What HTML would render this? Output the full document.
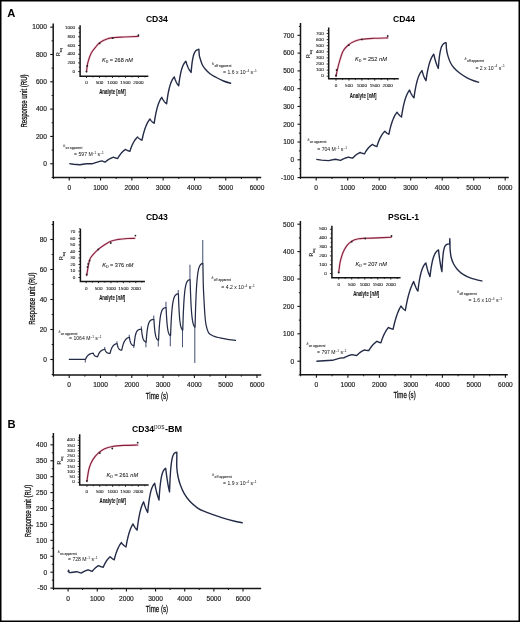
<!DOCTYPE html>
<html><head><meta charset="utf-8"><title>SPR binding kinetics figure</title>
<style>html,body{margin:0;padding:0;background:#fff;}body{width:520px;height:622px;overflow:hidden;font-family:"Liberation Sans", sans-serif;}svg{display:block;will-change:transform;}</style>
</head><body>
<svg width="520" height="622" viewBox="0 0 520 622" font-family='"Liberation Sans", sans-serif'><path d="M53.2,24.3 V177.4 H260.5" fill="none" stroke="#151515" stroke-width="1.5" stroke-linecap="square"/>
<line x1="50.2" y1="163.75" x2="53.2" y2="163.75" stroke="#151515" stroke-width="1.1"/>
<text x="46.9" y="166.05" font-size="6.6" text-anchor="end" font-weight="normal" font-style="normal" fill="#1e1e1e" stroke="#1e1e1e" stroke-width="0.18" >0</text>
<line x1="50.2" y1="136.43" x2="53.2" y2="136.43" stroke="#151515" stroke-width="1.1"/>
<text x="46.9" y="138.73" font-size="6.6" text-anchor="end" font-weight="normal" font-style="normal" fill="#1e1e1e" stroke="#1e1e1e" stroke-width="0.18" >200</text>
<line x1="50.2" y1="109.11" x2="53.2" y2="109.11" stroke="#151515" stroke-width="1.1"/>
<text x="46.9" y="111.41" font-size="6.6" text-anchor="end" font-weight="normal" font-style="normal" fill="#1e1e1e" stroke="#1e1e1e" stroke-width="0.18" >400</text>
<line x1="50.2" y1="81.79" x2="53.2" y2="81.79" stroke="#151515" stroke-width="1.1"/>
<text x="46.9" y="84.09" font-size="6.6" text-anchor="end" font-weight="normal" font-style="normal" fill="#1e1e1e" stroke="#1e1e1e" stroke-width="0.18" >600</text>
<line x1="50.2" y1="54.47" x2="53.2" y2="54.47" stroke="#151515" stroke-width="1.1"/>
<text x="46.9" y="56.77" font-size="6.6" text-anchor="end" font-weight="normal" font-style="normal" fill="#1e1e1e" stroke="#1e1e1e" stroke-width="0.18" >800</text>
<line x1="50.2" y1="27.15" x2="53.2" y2="27.15" stroke="#151515" stroke-width="1.1"/>
<text x="46.9" y="29.45" font-size="6.6" text-anchor="end" font-weight="normal" font-style="normal" fill="#1e1e1e" stroke="#1e1e1e" stroke-width="0.18" >1000</text>
<line x1="51.6" y1="177.41" x2="53.2" y2="177.41" stroke="#151515" stroke-width="1"/>
<line x1="51.6" y1="150.09" x2="53.2" y2="150.09" stroke="#151515" stroke-width="1"/>
<line x1="51.6" y1="122.77" x2="53.2" y2="122.77" stroke="#151515" stroke-width="1"/>
<line x1="51.6" y1="95.45" x2="53.2" y2="95.45" stroke="#151515" stroke-width="1"/>
<line x1="51.6" y1="68.13" x2="53.2" y2="68.13" stroke="#151515" stroke-width="1"/>
<line x1="51.6" y1="40.81" x2="53.2" y2="40.81" stroke="#151515" stroke-width="1"/>
<line x1="69.25" y1="177.4" x2="69.25" y2="180.4" stroke="#151515" stroke-width="1.1"/>
<text x="69.25" y="189.8" font-size="6.6" text-anchor="middle" font-weight="normal" font-style="normal" fill="#1e1e1e" stroke="#1e1e1e" stroke-width="0.18" >0</text>
<line x1="100.55" y1="177.4" x2="100.55" y2="180.4" stroke="#151515" stroke-width="1.1"/>
<text x="100.55" y="189.8" font-size="6.6" text-anchor="middle" font-weight="normal" font-style="normal" fill="#1e1e1e" stroke="#1e1e1e" stroke-width="0.18" >1000</text>
<line x1="131.85" y1="177.4" x2="131.85" y2="180.4" stroke="#151515" stroke-width="1.1"/>
<text x="131.85" y="189.8" font-size="6.6" text-anchor="middle" font-weight="normal" font-style="normal" fill="#1e1e1e" stroke="#1e1e1e" stroke-width="0.18" >2000</text>
<line x1="163.15" y1="177.4" x2="163.15" y2="180.4" stroke="#151515" stroke-width="1.1"/>
<text x="163.15" y="189.8" font-size="6.6" text-anchor="middle" font-weight="normal" font-style="normal" fill="#1e1e1e" stroke="#1e1e1e" stroke-width="0.18" >3000</text>
<line x1="194.45" y1="177.4" x2="194.45" y2="180.4" stroke="#151515" stroke-width="1.1"/>
<text x="194.45" y="189.8" font-size="6.6" text-anchor="middle" font-weight="normal" font-style="normal" fill="#1e1e1e" stroke="#1e1e1e" stroke-width="0.18" >4000</text>
<line x1="225.75" y1="177.4" x2="225.75" y2="180.4" stroke="#151515" stroke-width="1.1"/>
<text x="225.75" y="189.8" font-size="6.6" text-anchor="middle" font-weight="normal" font-style="normal" fill="#1e1e1e" stroke="#1e1e1e" stroke-width="0.18" >5000</text>
<line x1="257.05" y1="177.4" x2="257.05" y2="180.4" stroke="#151515" stroke-width="1.1"/>
<text x="257.05" y="189.8" font-size="6.6" text-anchor="middle" font-weight="normal" font-style="normal" fill="#1e1e1e" stroke="#1e1e1e" stroke-width="0.18" >6000</text>
<line x1="53.6" y1="177.4" x2="53.6" y2="179" stroke="#151515" stroke-width="1"/>
<line x1="84.9" y1="177.4" x2="84.9" y2="179" stroke="#151515" stroke-width="1"/>
<line x1="116.2" y1="177.4" x2="116.2" y2="179" stroke="#151515" stroke-width="1"/>
<line x1="147.5" y1="177.4" x2="147.5" y2="179" stroke="#151515" stroke-width="1"/>
<line x1="178.8" y1="177.4" x2="178.8" y2="179" stroke="#151515" stroke-width="1"/>
<line x1="210.1" y1="177.4" x2="210.1" y2="179" stroke="#151515" stroke-width="1"/>
<line x1="241.4" y1="177.4" x2="241.4" y2="179" stroke="#151515" stroke-width="1"/>
<text x="156.9" y="22" font-size="8.6" text-anchor="middle" font-weight="bold" font-style="normal" fill="#000" >CD34</text>
<text x="26.5" y="101" font-size="8.6" text-anchor="middle" font-weight="normal" font-style="normal" fill="#111" stroke="#111" stroke-width="0.28" textLength="53" lengthAdjust="spacingAndGlyphs" transform="rotate(-90 26.5 101)">Response unit (RU)</text>
<path d="M300.5,23.8 V177.4 H508" fill="none" stroke="#151515" stroke-width="1.5" stroke-linecap="square"/>
<line x1="297.5" y1="177.58" x2="300.5" y2="177.58" stroke="#151515" stroke-width="1.1"/>
<text x="294.2" y="179.88" font-size="6.6" text-anchor="end" font-weight="normal" font-style="normal" fill="#1e1e1e" stroke="#1e1e1e" stroke-width="0.18" >-100</text>
<line x1="297.5" y1="159.8" x2="300.5" y2="159.8" stroke="#151515" stroke-width="1.1"/>
<text x="294.2" y="162.1" font-size="6.6" text-anchor="end" font-weight="normal" font-style="normal" fill="#1e1e1e" stroke="#1e1e1e" stroke-width="0.18" >0</text>
<line x1="297.5" y1="142.02" x2="300.5" y2="142.02" stroke="#151515" stroke-width="1.1"/>
<text x="294.2" y="144.32" font-size="6.6" text-anchor="end" font-weight="normal" font-style="normal" fill="#1e1e1e" stroke="#1e1e1e" stroke-width="0.18" >100</text>
<line x1="297.5" y1="124.24" x2="300.5" y2="124.24" stroke="#151515" stroke-width="1.1"/>
<text x="294.2" y="126.54" font-size="6.6" text-anchor="end" font-weight="normal" font-style="normal" fill="#1e1e1e" stroke="#1e1e1e" stroke-width="0.18" >200</text>
<line x1="297.5" y1="106.46" x2="300.5" y2="106.46" stroke="#151515" stroke-width="1.1"/>
<text x="294.2" y="108.76" font-size="6.6" text-anchor="end" font-weight="normal" font-style="normal" fill="#1e1e1e" stroke="#1e1e1e" stroke-width="0.18" >300</text>
<line x1="297.5" y1="88.68" x2="300.5" y2="88.68" stroke="#151515" stroke-width="1.1"/>
<text x="294.2" y="90.98" font-size="6.6" text-anchor="end" font-weight="normal" font-style="normal" fill="#1e1e1e" stroke="#1e1e1e" stroke-width="0.18" >400</text>
<line x1="297.5" y1="70.9" x2="300.5" y2="70.9" stroke="#151515" stroke-width="1.1"/>
<text x="294.2" y="73.2" font-size="6.6" text-anchor="end" font-weight="normal" font-style="normal" fill="#1e1e1e" stroke="#1e1e1e" stroke-width="0.18" >500</text>
<line x1="297.5" y1="53.12" x2="300.5" y2="53.12" stroke="#151515" stroke-width="1.1"/>
<text x="294.2" y="55.42" font-size="6.6" text-anchor="end" font-weight="normal" font-style="normal" fill="#1e1e1e" stroke="#1e1e1e" stroke-width="0.18" >600</text>
<line x1="297.5" y1="35.34" x2="300.5" y2="35.34" stroke="#151515" stroke-width="1.1"/>
<text x="294.2" y="37.64" font-size="6.6" text-anchor="end" font-weight="normal" font-style="normal" fill="#1e1e1e" stroke="#1e1e1e" stroke-width="0.18" >700</text>
<line x1="298.9" y1="168.69" x2="300.5" y2="168.69" stroke="#151515" stroke-width="1"/>
<line x1="298.9" y1="150.91" x2="300.5" y2="150.91" stroke="#151515" stroke-width="1"/>
<line x1="298.9" y1="133.13" x2="300.5" y2="133.13" stroke="#151515" stroke-width="1"/>
<line x1="298.9" y1="115.35" x2="300.5" y2="115.35" stroke="#151515" stroke-width="1"/>
<line x1="298.9" y1="97.57" x2="300.5" y2="97.57" stroke="#151515" stroke-width="1"/>
<line x1="298.9" y1="79.79" x2="300.5" y2="79.79" stroke="#151515" stroke-width="1"/>
<line x1="298.9" y1="62.01" x2="300.5" y2="62.01" stroke="#151515" stroke-width="1"/>
<line x1="298.9" y1="44.23" x2="300.5" y2="44.23" stroke="#151515" stroke-width="1"/>
<line x1="298.9" y1="26.45" x2="300.5" y2="26.45" stroke="#151515" stroke-width="1"/>
<line x1="316.2" y1="177.4" x2="316.2" y2="180.4" stroke="#151515" stroke-width="1.1"/>
<text x="316.2" y="189.8" font-size="6.6" text-anchor="middle" font-weight="normal" font-style="normal" fill="#1e1e1e" stroke="#1e1e1e" stroke-width="0.18" >0</text>
<line x1="347.7" y1="177.4" x2="347.7" y2="180.4" stroke="#151515" stroke-width="1.1"/>
<text x="347.7" y="189.8" font-size="6.6" text-anchor="middle" font-weight="normal" font-style="normal" fill="#1e1e1e" stroke="#1e1e1e" stroke-width="0.18" >1000</text>
<line x1="379.2" y1="177.4" x2="379.2" y2="180.4" stroke="#151515" stroke-width="1.1"/>
<text x="379.2" y="189.8" font-size="6.6" text-anchor="middle" font-weight="normal" font-style="normal" fill="#1e1e1e" stroke="#1e1e1e" stroke-width="0.18" >2000</text>
<line x1="410.7" y1="177.4" x2="410.7" y2="180.4" stroke="#151515" stroke-width="1.1"/>
<text x="410.7" y="189.8" font-size="6.6" text-anchor="middle" font-weight="normal" font-style="normal" fill="#1e1e1e" stroke="#1e1e1e" stroke-width="0.18" >3000</text>
<line x1="442.2" y1="177.4" x2="442.2" y2="180.4" stroke="#151515" stroke-width="1.1"/>
<text x="442.2" y="189.8" font-size="6.6" text-anchor="middle" font-weight="normal" font-style="normal" fill="#1e1e1e" stroke="#1e1e1e" stroke-width="0.18" >4000</text>
<line x1="473.7" y1="177.4" x2="473.7" y2="180.4" stroke="#151515" stroke-width="1.1"/>
<text x="473.7" y="189.8" font-size="6.6" text-anchor="middle" font-weight="normal" font-style="normal" fill="#1e1e1e" stroke="#1e1e1e" stroke-width="0.18" >5000</text>
<line x1="505.2" y1="177.4" x2="505.2" y2="180.4" stroke="#151515" stroke-width="1.1"/>
<text x="505.2" y="189.8" font-size="6.6" text-anchor="middle" font-weight="normal" font-style="normal" fill="#1e1e1e" stroke="#1e1e1e" stroke-width="0.18" >6000</text>
<line x1="300.45" y1="177.4" x2="300.45" y2="179" stroke="#151515" stroke-width="1"/>
<line x1="331.95" y1="177.4" x2="331.95" y2="179" stroke="#151515" stroke-width="1"/>
<line x1="363.45" y1="177.4" x2="363.45" y2="179" stroke="#151515" stroke-width="1"/>
<line x1="394.95" y1="177.4" x2="394.95" y2="179" stroke="#151515" stroke-width="1"/>
<line x1="426.45" y1="177.4" x2="426.45" y2="179" stroke="#151515" stroke-width="1"/>
<line x1="457.95" y1="177.4" x2="457.95" y2="179" stroke="#151515" stroke-width="1"/>
<line x1="489.45" y1="177.4" x2="489.45" y2="179" stroke="#151515" stroke-width="1"/>
<text x="404.1" y="22" font-size="8.6" text-anchor="middle" font-weight="bold" font-style="normal" fill="#000" >CD44</text>
<path d="M53.3,221.8 V375 H260.5" fill="none" stroke="#151515" stroke-width="1.5" stroke-linecap="square"/>
<line x1="50.3" y1="359.5" x2="53.3" y2="359.5" stroke="#151515" stroke-width="1.1"/>
<text x="47" y="361.8" font-size="6.6" text-anchor="end" font-weight="normal" font-style="normal" fill="#1e1e1e" stroke="#1e1e1e" stroke-width="0.18" >0</text>
<line x1="50.3" y1="329.5" x2="53.3" y2="329.5" stroke="#151515" stroke-width="1.1"/>
<text x="47" y="331.8" font-size="6.6" text-anchor="end" font-weight="normal" font-style="normal" fill="#1e1e1e" stroke="#1e1e1e" stroke-width="0.18" >20</text>
<line x1="50.3" y1="299.5" x2="53.3" y2="299.5" stroke="#151515" stroke-width="1.1"/>
<text x="47" y="301.8" font-size="6.6" text-anchor="end" font-weight="normal" font-style="normal" fill="#1e1e1e" stroke="#1e1e1e" stroke-width="0.18" >40</text>
<line x1="50.3" y1="269.5" x2="53.3" y2="269.5" stroke="#151515" stroke-width="1.1"/>
<text x="47" y="271.8" font-size="6.6" text-anchor="end" font-weight="normal" font-style="normal" fill="#1e1e1e" stroke="#1e1e1e" stroke-width="0.18" >60</text>
<line x1="50.3" y1="239.5" x2="53.3" y2="239.5" stroke="#151515" stroke-width="1.1"/>
<text x="47" y="241.8" font-size="6.6" text-anchor="end" font-weight="normal" font-style="normal" fill="#1e1e1e" stroke="#1e1e1e" stroke-width="0.18" >80</text>
<line x1="51.7" y1="374.5" x2="53.3" y2="374.5" stroke="#151515" stroke-width="1"/>
<line x1="51.7" y1="344.5" x2="53.3" y2="344.5" stroke="#151515" stroke-width="1"/>
<line x1="51.7" y1="314.5" x2="53.3" y2="314.5" stroke="#151515" stroke-width="1"/>
<line x1="51.7" y1="284.5" x2="53.3" y2="284.5" stroke="#151515" stroke-width="1"/>
<line x1="51.7" y1="254.5" x2="53.3" y2="254.5" stroke="#151515" stroke-width="1"/>
<line x1="51.7" y1="224.5" x2="53.3" y2="224.5" stroke="#151515" stroke-width="1"/>
<line x1="69.2" y1="375" x2="69.2" y2="378" stroke="#151515" stroke-width="1.1"/>
<text x="69.2" y="387.4" font-size="6.6" text-anchor="middle" font-weight="normal" font-style="normal" fill="#1e1e1e" stroke="#1e1e1e" stroke-width="0.18" >0</text>
<line x1="100.5" y1="375" x2="100.5" y2="378" stroke="#151515" stroke-width="1.1"/>
<text x="100.5" y="387.4" font-size="6.6" text-anchor="middle" font-weight="normal" font-style="normal" fill="#1e1e1e" stroke="#1e1e1e" stroke-width="0.18" >1000</text>
<line x1="131.8" y1="375" x2="131.8" y2="378" stroke="#151515" stroke-width="1.1"/>
<text x="131.8" y="387.4" font-size="6.6" text-anchor="middle" font-weight="normal" font-style="normal" fill="#1e1e1e" stroke="#1e1e1e" stroke-width="0.18" >2000</text>
<line x1="163.1" y1="375" x2="163.1" y2="378" stroke="#151515" stroke-width="1.1"/>
<text x="163.1" y="387.4" font-size="6.6" text-anchor="middle" font-weight="normal" font-style="normal" fill="#1e1e1e" stroke="#1e1e1e" stroke-width="0.18" >3000</text>
<line x1="194.4" y1="375" x2="194.4" y2="378" stroke="#151515" stroke-width="1.1"/>
<text x="194.4" y="387.4" font-size="6.6" text-anchor="middle" font-weight="normal" font-style="normal" fill="#1e1e1e" stroke="#1e1e1e" stroke-width="0.18" >4000</text>
<line x1="225.7" y1="375" x2="225.7" y2="378" stroke="#151515" stroke-width="1.1"/>
<text x="225.7" y="387.4" font-size="6.6" text-anchor="middle" font-weight="normal" font-style="normal" fill="#1e1e1e" stroke="#1e1e1e" stroke-width="0.18" >5000</text>
<line x1="257" y1="375" x2="257" y2="378" stroke="#151515" stroke-width="1.1"/>
<text x="257" y="387.4" font-size="6.6" text-anchor="middle" font-weight="normal" font-style="normal" fill="#1e1e1e" stroke="#1e1e1e" stroke-width="0.18" >6000</text>
<line x1="53.55" y1="375" x2="53.55" y2="376.6" stroke="#151515" stroke-width="1"/>
<line x1="84.85" y1="375" x2="84.85" y2="376.6" stroke="#151515" stroke-width="1"/>
<line x1="116.15" y1="375" x2="116.15" y2="376.6" stroke="#151515" stroke-width="1"/>
<line x1="147.45" y1="375" x2="147.45" y2="376.6" stroke="#151515" stroke-width="1"/>
<line x1="178.75" y1="375" x2="178.75" y2="376.6" stroke="#151515" stroke-width="1"/>
<line x1="210.05" y1="375" x2="210.05" y2="376.6" stroke="#151515" stroke-width="1"/>
<line x1="241.35" y1="375" x2="241.35" y2="376.6" stroke="#151515" stroke-width="1"/>
<text x="156.9" y="219.5" font-size="8.6" text-anchor="middle" font-weight="bold" font-style="normal" fill="#000" >CD43</text>
<text x="34.7" y="298.6" font-size="8.6" text-anchor="middle" font-weight="normal" font-style="normal" fill="#111" stroke="#111" stroke-width="0.28" textLength="52.3" lengthAdjust="spacingAndGlyphs" transform="rotate(-90 34.7 298.6)">Response unit (RU)</text>
<text x="156.9" y="398.6" font-size="8.6" text-anchor="middle" font-weight="normal" font-style="normal" fill="#111" stroke="#111" stroke-width="0.28" textLength="22.3" lengthAdjust="spacingAndGlyphs">Time (s)</text>
<path d="M300.4,221.7 V374.7 H507" fill="none" stroke="#151515" stroke-width="1.5" stroke-linecap="square"/>
<line x1="297.4" y1="361.2" x2="300.4" y2="361.2" stroke="#151515" stroke-width="1.1"/>
<text x="294.1" y="363.5" font-size="6.6" text-anchor="end" font-weight="normal" font-style="normal" fill="#1e1e1e" stroke="#1e1e1e" stroke-width="0.18" >0</text>
<line x1="297.4" y1="333.8" x2="300.4" y2="333.8" stroke="#151515" stroke-width="1.1"/>
<text x="294.1" y="336.1" font-size="6.6" text-anchor="end" font-weight="normal" font-style="normal" fill="#1e1e1e" stroke="#1e1e1e" stroke-width="0.18" >100</text>
<line x1="297.4" y1="306.4" x2="300.4" y2="306.4" stroke="#151515" stroke-width="1.1"/>
<text x="294.1" y="308.7" font-size="6.6" text-anchor="end" font-weight="normal" font-style="normal" fill="#1e1e1e" stroke="#1e1e1e" stroke-width="0.18" >200</text>
<line x1="297.4" y1="279" x2="300.4" y2="279" stroke="#151515" stroke-width="1.1"/>
<text x="294.1" y="281.3" font-size="6.6" text-anchor="end" font-weight="normal" font-style="normal" fill="#1e1e1e" stroke="#1e1e1e" stroke-width="0.18" >300</text>
<line x1="297.4" y1="251.6" x2="300.4" y2="251.6" stroke="#151515" stroke-width="1.1"/>
<text x="294.1" y="253.9" font-size="6.6" text-anchor="end" font-weight="normal" font-style="normal" fill="#1e1e1e" stroke="#1e1e1e" stroke-width="0.18" >400</text>
<line x1="297.4" y1="224.2" x2="300.4" y2="224.2" stroke="#151515" stroke-width="1.1"/>
<text x="294.1" y="226.5" font-size="6.6" text-anchor="end" font-weight="normal" font-style="normal" fill="#1e1e1e" stroke="#1e1e1e" stroke-width="0.18" >500</text>
<line x1="298.8" y1="374.9" x2="300.4" y2="374.9" stroke="#151515" stroke-width="1"/>
<line x1="298.8" y1="347.5" x2="300.4" y2="347.5" stroke="#151515" stroke-width="1"/>
<line x1="298.8" y1="320.1" x2="300.4" y2="320.1" stroke="#151515" stroke-width="1"/>
<line x1="298.8" y1="292.7" x2="300.4" y2="292.7" stroke="#151515" stroke-width="1"/>
<line x1="298.8" y1="265.3" x2="300.4" y2="265.3" stroke="#151515" stroke-width="1"/>
<line x1="298.8" y1="237.9" x2="300.4" y2="237.9" stroke="#151515" stroke-width="1"/>
<line x1="316.4" y1="374.7" x2="316.4" y2="377.7" stroke="#151515" stroke-width="1.1"/>
<text x="316.4" y="387.1" font-size="6.6" text-anchor="middle" font-weight="normal" font-style="normal" fill="#1e1e1e" stroke="#1e1e1e" stroke-width="0.18" >0</text>
<line x1="347.9" y1="374.7" x2="347.9" y2="377.7" stroke="#151515" stroke-width="1.1"/>
<text x="347.9" y="387.1" font-size="6.6" text-anchor="middle" font-weight="normal" font-style="normal" fill="#1e1e1e" stroke="#1e1e1e" stroke-width="0.18" >1000</text>
<line x1="379.4" y1="374.7" x2="379.4" y2="377.7" stroke="#151515" stroke-width="1.1"/>
<text x="379.4" y="387.1" font-size="6.6" text-anchor="middle" font-weight="normal" font-style="normal" fill="#1e1e1e" stroke="#1e1e1e" stroke-width="0.18" >2000</text>
<line x1="410.9" y1="374.7" x2="410.9" y2="377.7" stroke="#151515" stroke-width="1.1"/>
<text x="410.9" y="387.1" font-size="6.6" text-anchor="middle" font-weight="normal" font-style="normal" fill="#1e1e1e" stroke="#1e1e1e" stroke-width="0.18" >3000</text>
<line x1="442.4" y1="374.7" x2="442.4" y2="377.7" stroke="#151515" stroke-width="1.1"/>
<text x="442.4" y="387.1" font-size="6.6" text-anchor="middle" font-weight="normal" font-style="normal" fill="#1e1e1e" stroke="#1e1e1e" stroke-width="0.18" >4000</text>
<line x1="473.9" y1="374.7" x2="473.9" y2="377.7" stroke="#151515" stroke-width="1.1"/>
<text x="473.9" y="387.1" font-size="6.6" text-anchor="middle" font-weight="normal" font-style="normal" fill="#1e1e1e" stroke="#1e1e1e" stroke-width="0.18" >5000</text>
<line x1="505.4" y1="374.7" x2="505.4" y2="377.7" stroke="#151515" stroke-width="1.1"/>
<text x="505.4" y="387.1" font-size="6.6" text-anchor="middle" font-weight="normal" font-style="normal" fill="#1e1e1e" stroke="#1e1e1e" stroke-width="0.18" >6000</text>
<line x1="300.65" y1="374.7" x2="300.65" y2="376.3" stroke="#151515" stroke-width="1"/>
<line x1="332.15" y1="374.7" x2="332.15" y2="376.3" stroke="#151515" stroke-width="1"/>
<line x1="363.65" y1="374.7" x2="363.65" y2="376.3" stroke="#151515" stroke-width="1"/>
<line x1="395.15" y1="374.7" x2="395.15" y2="376.3" stroke="#151515" stroke-width="1"/>
<line x1="426.65" y1="374.7" x2="426.65" y2="376.3" stroke="#151515" stroke-width="1"/>
<line x1="458.15" y1="374.7" x2="458.15" y2="376.3" stroke="#151515" stroke-width="1"/>
<line x1="489.65" y1="374.7" x2="489.65" y2="376.3" stroke="#151515" stroke-width="1"/>
<text x="403.6" y="219.5" font-size="8.6" text-anchor="middle" font-weight="bold" font-style="normal" fill="#000" >PSGL-1</text>
<text x="404.6" y="397.6" font-size="8.6" text-anchor="middle" font-weight="normal" font-style="normal" fill="#111" stroke="#111" stroke-width="0.28" textLength="22.3" lengthAdjust="spacingAndGlyphs">Time (s)</text>
<path d="M53.4,433.7 V588.4 H260.4" fill="none" stroke="#151515" stroke-width="1.5" stroke-linecap="square"/>
<line x1="50.4" y1="588.12" x2="53.4" y2="588.12" stroke="#151515" stroke-width="1.1"/>
<text x="47.1" y="590.42" font-size="6.6" text-anchor="end" font-weight="normal" font-style="normal" fill="#1e1e1e" stroke="#1e1e1e" stroke-width="0.18" >-50</text>
<line x1="50.4" y1="572.2" x2="53.4" y2="572.2" stroke="#151515" stroke-width="1.1"/>
<text x="47.1" y="574.5" font-size="6.6" text-anchor="end" font-weight="normal" font-style="normal" fill="#1e1e1e" stroke="#1e1e1e" stroke-width="0.18" >0</text>
<line x1="50.4" y1="556.28" x2="53.4" y2="556.28" stroke="#151515" stroke-width="1.1"/>
<text x="47.1" y="558.58" font-size="6.6" text-anchor="end" font-weight="normal" font-style="normal" fill="#1e1e1e" stroke="#1e1e1e" stroke-width="0.18" >50</text>
<line x1="50.4" y1="540.36" x2="53.4" y2="540.36" stroke="#151515" stroke-width="1.1"/>
<text x="47.1" y="542.66" font-size="6.6" text-anchor="end" font-weight="normal" font-style="normal" fill="#1e1e1e" stroke="#1e1e1e" stroke-width="0.18" >100</text>
<line x1="50.4" y1="524.44" x2="53.4" y2="524.44" stroke="#151515" stroke-width="1.1"/>
<text x="47.1" y="526.74" font-size="6.6" text-anchor="end" font-weight="normal" font-style="normal" fill="#1e1e1e" stroke="#1e1e1e" stroke-width="0.18" >150</text>
<line x1="50.4" y1="508.52" x2="53.4" y2="508.52" stroke="#151515" stroke-width="1.1"/>
<text x="47.1" y="510.82" font-size="6.6" text-anchor="end" font-weight="normal" font-style="normal" fill="#1e1e1e" stroke="#1e1e1e" stroke-width="0.18" >200</text>
<line x1="50.4" y1="492.6" x2="53.4" y2="492.6" stroke="#151515" stroke-width="1.1"/>
<text x="47.1" y="494.9" font-size="6.6" text-anchor="end" font-weight="normal" font-style="normal" fill="#1e1e1e" stroke="#1e1e1e" stroke-width="0.18" >250</text>
<line x1="50.4" y1="476.68" x2="53.4" y2="476.68" stroke="#151515" stroke-width="1.1"/>
<text x="47.1" y="478.98" font-size="6.6" text-anchor="end" font-weight="normal" font-style="normal" fill="#1e1e1e" stroke="#1e1e1e" stroke-width="0.18" >300</text>
<line x1="50.4" y1="460.76" x2="53.4" y2="460.76" stroke="#151515" stroke-width="1.1"/>
<text x="47.1" y="463.06" font-size="6.6" text-anchor="end" font-weight="normal" font-style="normal" fill="#1e1e1e" stroke="#1e1e1e" stroke-width="0.18" >350</text>
<line x1="50.4" y1="444.84" x2="53.4" y2="444.84" stroke="#151515" stroke-width="1.1"/>
<text x="47.1" y="447.14" font-size="6.6" text-anchor="end" font-weight="normal" font-style="normal" fill="#1e1e1e" stroke="#1e1e1e" stroke-width="0.18" >400</text>
<line x1="51.8" y1="580.16" x2="53.4" y2="580.16" stroke="#151515" stroke-width="1"/>
<line x1="51.8" y1="564.24" x2="53.4" y2="564.24" stroke="#151515" stroke-width="1"/>
<line x1="51.8" y1="548.32" x2="53.4" y2="548.32" stroke="#151515" stroke-width="1"/>
<line x1="51.8" y1="532.4" x2="53.4" y2="532.4" stroke="#151515" stroke-width="1"/>
<line x1="51.8" y1="516.48" x2="53.4" y2="516.48" stroke="#151515" stroke-width="1"/>
<line x1="51.8" y1="500.56" x2="53.4" y2="500.56" stroke="#151515" stroke-width="1"/>
<line x1="51.8" y1="484.64" x2="53.4" y2="484.64" stroke="#151515" stroke-width="1"/>
<line x1="51.8" y1="468.72" x2="53.4" y2="468.72" stroke="#151515" stroke-width="1"/>
<line x1="51.8" y1="452.8" x2="53.4" y2="452.8" stroke="#151515" stroke-width="1"/>
<line x1="51.8" y1="436.88" x2="53.4" y2="436.88" stroke="#151515" stroke-width="1"/>
<line x1="68.1" y1="588.4" x2="68.1" y2="591.4" stroke="#151515" stroke-width="1.1"/>
<text x="68.1" y="600.8" font-size="6.6" text-anchor="middle" font-weight="normal" font-style="normal" fill="#1e1e1e" stroke="#1e1e1e" stroke-width="0.18" >0</text>
<line x1="97.25" y1="588.4" x2="97.25" y2="591.4" stroke="#151515" stroke-width="1.1"/>
<text x="97.25" y="600.8" font-size="6.6" text-anchor="middle" font-weight="normal" font-style="normal" fill="#1e1e1e" stroke="#1e1e1e" stroke-width="0.18" >1000</text>
<line x1="126.4" y1="588.4" x2="126.4" y2="591.4" stroke="#151515" stroke-width="1.1"/>
<text x="126.4" y="600.8" font-size="6.6" text-anchor="middle" font-weight="normal" font-style="normal" fill="#1e1e1e" stroke="#1e1e1e" stroke-width="0.18" >2000</text>
<line x1="155.55" y1="588.4" x2="155.55" y2="591.4" stroke="#151515" stroke-width="1.1"/>
<text x="155.55" y="600.8" font-size="6.6" text-anchor="middle" font-weight="normal" font-style="normal" fill="#1e1e1e" stroke="#1e1e1e" stroke-width="0.18" >3000</text>
<line x1="184.7" y1="588.4" x2="184.7" y2="591.4" stroke="#151515" stroke-width="1.1"/>
<text x="184.7" y="600.8" font-size="6.6" text-anchor="middle" font-weight="normal" font-style="normal" fill="#1e1e1e" stroke="#1e1e1e" stroke-width="0.18" >4000</text>
<line x1="213.85" y1="588.4" x2="213.85" y2="591.4" stroke="#151515" stroke-width="1.1"/>
<text x="213.85" y="600.8" font-size="6.6" text-anchor="middle" font-weight="normal" font-style="normal" fill="#1e1e1e" stroke="#1e1e1e" stroke-width="0.18" >5000</text>
<line x1="243" y1="588.4" x2="243" y2="591.4" stroke="#151515" stroke-width="1.1"/>
<text x="243" y="600.8" font-size="6.6" text-anchor="middle" font-weight="normal" font-style="normal" fill="#1e1e1e" stroke="#1e1e1e" stroke-width="0.18" >6000</text>
<line x1="53.52" y1="588.4" x2="53.52" y2="590" stroke="#151515" stroke-width="1"/>
<line x1="82.67" y1="588.4" x2="82.67" y2="590" stroke="#151515" stroke-width="1"/>
<line x1="111.82" y1="588.4" x2="111.82" y2="590" stroke="#151515" stroke-width="1"/>
<line x1="140.97" y1="588.4" x2="140.97" y2="590" stroke="#151515" stroke-width="1"/>
<line x1="170.12" y1="588.4" x2="170.12" y2="590" stroke="#151515" stroke-width="1"/>
<line x1="199.27" y1="588.4" x2="199.27" y2="590" stroke="#151515" stroke-width="1"/>
<line x1="228.42" y1="588.4" x2="228.42" y2="590" stroke="#151515" stroke-width="1"/>
<text x="132" y="431.6" font-size="8.6" font-weight="bold" fill="#000">CD34</text>
<text x="153.9" y="428.6" font-size="6.3" fill="#333" textLength="10.6" lengthAdjust="spacingAndGlyphs">pos</text>
<text x="165" y="431.6" font-size="8.6" font-weight="bold" fill="#000" textLength="17.2" lengthAdjust="spacingAndGlyphs">-BM</text>
<text x="30.5" y="511" font-size="8.6" text-anchor="middle" font-weight="normal" font-style="normal" fill="#111" stroke="#111" stroke-width="0.28" textLength="52.3" lengthAdjust="spacingAndGlyphs" transform="rotate(-90 30.5 511)">Response unit (RU)</text>
<text x="156.9" y="612.2" font-size="8.6" text-anchor="middle" font-weight="normal" font-style="normal" fill="#111" stroke="#111" stroke-width="0.28" textLength="22.3" lengthAdjust="spacingAndGlyphs">Time (s)</text>
<text x="11.3" y="17.3" font-size="11.2" text-anchor="middle" font-weight="bold" font-style="normal" fill="#000" >A</text>
<text x="11.5" y="427.5" font-size="11.2" text-anchor="middle" font-weight="bold" font-style="normal" fill="#000" >B</text>
<path d="M80.1,26 V76.2 H147.6" fill="none" stroke="#151515" stroke-width="1.5" stroke-linecap="square"/>
<line x1="78.1" y1="71.6" x2="80.1" y2="71.6" stroke="#151515" stroke-width="0.9"/>
<text transform="translate(75.1,72.7) scale(1,0.68)" font-size="4.6" text-anchor="end" fill="#1a1a1a" stroke="#1a1a1a" stroke-width="0.1">0</text>
<line x1="78.1" y1="62.9" x2="80.1" y2="62.9" stroke="#151515" stroke-width="0.9"/>
<text transform="translate(75.1,64) scale(1,0.68)" font-size="4.6" text-anchor="end" fill="#1a1a1a" stroke="#1a1a1a" stroke-width="0.1">200</text>
<line x1="78.1" y1="54.2" x2="80.1" y2="54.2" stroke="#151515" stroke-width="0.9"/>
<text transform="translate(75.1,55.3) scale(1,0.68)" font-size="4.6" text-anchor="end" fill="#1a1a1a" stroke="#1a1a1a" stroke-width="0.1">400</text>
<line x1="78.1" y1="45.5" x2="80.1" y2="45.5" stroke="#151515" stroke-width="0.9"/>
<text transform="translate(75.1,46.6) scale(1,0.68)" font-size="4.6" text-anchor="end" fill="#1a1a1a" stroke="#1a1a1a" stroke-width="0.1">600</text>
<line x1="78.1" y1="36.8" x2="80.1" y2="36.8" stroke="#151515" stroke-width="0.9"/>
<text transform="translate(75.1,37.9) scale(1,0.68)" font-size="4.6" text-anchor="end" fill="#1a1a1a" stroke="#1a1a1a" stroke-width="0.1">800</text>
<line x1="78.1" y1="28.1" x2="80.1" y2="28.1" stroke="#151515" stroke-width="0.9"/>
<text transform="translate(75.1,29.2) scale(1,0.68)" font-size="4.6" text-anchor="end" fill="#1a1a1a" stroke="#1a1a1a" stroke-width="0.1">1000</text>
<line x1="78.8" y1="67.25" x2="80.1" y2="67.25" stroke="#151515" stroke-width="0.8"/>
<line x1="78.8" y1="58.55" x2="80.1" y2="58.55" stroke="#151515" stroke-width="0.8"/>
<line x1="78.8" y1="49.85" x2="80.1" y2="49.85" stroke="#151515" stroke-width="0.8"/>
<line x1="78.8" y1="41.15" x2="80.1" y2="41.15" stroke="#151515" stroke-width="0.8"/>
<line x1="78.8" y1="32.45" x2="80.1" y2="32.45" stroke="#151515" stroke-width="0.8"/>
<line x1="86.5" y1="76.2" x2="86.5" y2="78" stroke="#151515" stroke-width="0.9"/>
<text transform="translate(86.5,84.3) scale(1,0.68)" font-size="4.6" text-anchor="middle" fill="#1a1a1a" stroke="#1a1a1a" stroke-width="0.1">0</text>
<line x1="99.47" y1="76.2" x2="99.47" y2="78" stroke="#151515" stroke-width="0.9"/>
<text transform="translate(99.47,84.3) scale(1,0.68)" font-size="4.6" text-anchor="middle" fill="#1a1a1a" stroke="#1a1a1a" stroke-width="0.1">500</text>
<line x1="112.45" y1="76.2" x2="112.45" y2="78" stroke="#151515" stroke-width="0.9"/>
<text transform="translate(112.45,84.3) scale(1,0.68)" font-size="4.6" text-anchor="middle" fill="#1a1a1a" stroke="#1a1a1a" stroke-width="0.1">1000</text>
<line x1="125.43" y1="76.2" x2="125.43" y2="78" stroke="#151515" stroke-width="0.9"/>
<text transform="translate(125.43,84.3) scale(1,0.68)" font-size="4.6" text-anchor="middle" fill="#1a1a1a" stroke="#1a1a1a" stroke-width="0.1">1500</text>
<line x1="138.4" y1="76.2" x2="138.4" y2="78" stroke="#151515" stroke-width="0.9"/>
<text transform="translate(138.4,84.3) scale(1,0.68)" font-size="4.6" text-anchor="middle" fill="#1a1a1a" stroke="#1a1a1a" stroke-width="0.1">2000</text>
<line x1="92.99" y1="76.2" x2="92.99" y2="77.5" stroke="#151515" stroke-width="0.8"/>
<line x1="105.96" y1="76.2" x2="105.96" y2="77.5" stroke="#151515" stroke-width="0.8"/>
<line x1="118.94" y1="76.2" x2="118.94" y2="77.5" stroke="#151515" stroke-width="0.8"/>
<line x1="131.91" y1="76.2" x2="131.91" y2="77.5" stroke="#151515" stroke-width="0.8"/>
<line x1="144.89" y1="76.2" x2="144.89" y2="77.5" stroke="#151515" stroke-width="0.8"/>
<text transform="translate(60.1,55.9) rotate(-90)" font-size="5.2" fill="#1a1a1a" stroke="#1a1a1a" stroke-width="0.1">R<tspan font-size="3.8" dy="1.9">eq</tspan></text>
<text x="112.4" y="94.4" font-size="6.5" font-weight="bold" text-anchor="middle" fill="#1a1a1a" stroke="#1a1a1a" stroke-width="0.12" textLength="26.4" lengthAdjust="spacingAndGlyphs">Analyte [<tspan font-style="italic">nM</tspan>]</text>
<text x="102" y="62.1" font-size="5.6" fill="#1a1a1a" stroke="#1a1a1a" stroke-width="0.08" textLength="30.9" lengthAdjust="spacingAndGlyphs"><tspan font-style="italic">K</tspan><tspan font-size="3.6" dy="1.3">D</tspan><tspan dy="-1.3"> = 268 </tspan><tspan font-style="italic">nM</tspan></text>
<path d="M86.5,71.6 C86.73,70.07 87.1,65.52 87.9,62.4 C88.7,59.28 89.87,55.63 91.3,52.9 C92.73,50.17 95.05,47.73 96.5,46 C97.95,44.27 98.27,43.67 100,42.5 C101.73,41.33 104.6,39.82 106.9,39 C109.2,38.18 110.92,37.93 113.8,37.6 C116.68,37.27 120.1,37.2 124.2,37 C128.3,36.8 136.03,36.5 138.4,36.4" fill="none" stroke="#e796ac" stroke-opacity="0.4" stroke-width="2.4" stroke-linecap="round" stroke-linejoin="round"/>
<path d="M86.5,71.6 C86.73,70.07 87.1,65.52 87.9,62.4 C88.7,59.28 89.87,55.63 91.3,52.9 C92.73,50.17 95.05,47.73 96.5,46 C97.95,44.27 98.27,43.67 100,42.5 C101.73,41.33 104.6,39.82 106.9,39 C109.2,38.18 110.92,37.93 113.8,37.6 C116.68,37.27 120.1,37.2 124.2,37 C128.3,36.8 136.03,36.5 138.4,36.4" fill="none" stroke="#86203d" stroke-width="1.15" stroke-linecap="round" stroke-linejoin="round"/>
<circle cx="86.5" cy="71.6" r="0.9" fill="#222"/>
<circle cx="87.2" cy="66" r="0.9" fill="#222"/>
<circle cx="99.6" cy="43.4" r="0.9" fill="#222"/>
<circle cx="112.6" cy="38.2" r="0.9" fill="#222"/>
<circle cx="138.4" cy="35.2" r="0.9" fill="#222"/>
<path d="M328.7,28.3 V78.8 H398" fill="none" stroke="#151515" stroke-width="1.5" stroke-linecap="square"/>
<line x1="326.7" y1="76.2" x2="328.7" y2="76.2" stroke="#151515" stroke-width="0.9"/>
<text transform="translate(323.7,77.3) scale(1,0.68)" font-size="4.6" text-anchor="end" fill="#1a1a1a" stroke="#1a1a1a" stroke-width="0.1">0</text>
<line x1="326.7" y1="70.1" x2="328.7" y2="70.1" stroke="#151515" stroke-width="0.9"/>
<text transform="translate(323.7,71.2) scale(1,0.68)" font-size="4.6" text-anchor="end" fill="#1a1a1a" stroke="#1a1a1a" stroke-width="0.1">100</text>
<line x1="326.7" y1="64" x2="328.7" y2="64" stroke="#151515" stroke-width="0.9"/>
<text transform="translate(323.7,65.1) scale(1,0.68)" font-size="4.6" text-anchor="end" fill="#1a1a1a" stroke="#1a1a1a" stroke-width="0.1">200</text>
<line x1="326.7" y1="57.9" x2="328.7" y2="57.9" stroke="#151515" stroke-width="0.9"/>
<text transform="translate(323.7,59) scale(1,0.68)" font-size="4.6" text-anchor="end" fill="#1a1a1a" stroke="#1a1a1a" stroke-width="0.1">300</text>
<line x1="326.7" y1="51.8" x2="328.7" y2="51.8" stroke="#151515" stroke-width="0.9"/>
<text transform="translate(323.7,52.9) scale(1,0.68)" font-size="4.6" text-anchor="end" fill="#1a1a1a" stroke="#1a1a1a" stroke-width="0.1">400</text>
<line x1="326.7" y1="45.7" x2="328.7" y2="45.7" stroke="#151515" stroke-width="0.9"/>
<text transform="translate(323.7,46.8) scale(1,0.68)" font-size="4.6" text-anchor="end" fill="#1a1a1a" stroke="#1a1a1a" stroke-width="0.1">500</text>
<line x1="326.7" y1="39.6" x2="328.7" y2="39.6" stroke="#151515" stroke-width="0.9"/>
<text transform="translate(323.7,40.7) scale(1,0.68)" font-size="4.6" text-anchor="end" fill="#1a1a1a" stroke="#1a1a1a" stroke-width="0.1">600</text>
<line x1="326.7" y1="33.5" x2="328.7" y2="33.5" stroke="#151515" stroke-width="0.9"/>
<text transform="translate(323.7,34.6) scale(1,0.68)" font-size="4.6" text-anchor="end" fill="#1a1a1a" stroke="#1a1a1a" stroke-width="0.1">700</text>
<line x1="327.4" y1="73.15" x2="328.7" y2="73.15" stroke="#151515" stroke-width="0.8"/>
<line x1="327.4" y1="67.05" x2="328.7" y2="67.05" stroke="#151515" stroke-width="0.8"/>
<line x1="327.4" y1="60.95" x2="328.7" y2="60.95" stroke="#151515" stroke-width="0.8"/>
<line x1="327.4" y1="54.85" x2="328.7" y2="54.85" stroke="#151515" stroke-width="0.8"/>
<line x1="327.4" y1="48.75" x2="328.7" y2="48.75" stroke="#151515" stroke-width="0.8"/>
<line x1="327.4" y1="42.65" x2="328.7" y2="42.65" stroke="#151515" stroke-width="0.8"/>
<line x1="327.4" y1="36.55" x2="328.7" y2="36.55" stroke="#151515" stroke-width="0.8"/>
<line x1="327.4" y1="30.45" x2="328.7" y2="30.45" stroke="#151515" stroke-width="0.8"/>
<line x1="336" y1="78.8" x2="336" y2="80.6" stroke="#151515" stroke-width="0.9"/>
<text transform="translate(336,86.9) scale(1,0.68)" font-size="4.6" text-anchor="middle" fill="#1a1a1a" stroke="#1a1a1a" stroke-width="0.1">0</text>
<line x1="348.93" y1="78.8" x2="348.93" y2="80.6" stroke="#151515" stroke-width="0.9"/>
<text transform="translate(348.93,86.9) scale(1,0.68)" font-size="4.6" text-anchor="middle" fill="#1a1a1a" stroke="#1a1a1a" stroke-width="0.1">500</text>
<line x1="361.85" y1="78.8" x2="361.85" y2="80.6" stroke="#151515" stroke-width="0.9"/>
<text transform="translate(361.85,86.9) scale(1,0.68)" font-size="4.6" text-anchor="middle" fill="#1a1a1a" stroke="#1a1a1a" stroke-width="0.1">1000</text>
<line x1="374.77" y1="78.8" x2="374.77" y2="80.6" stroke="#151515" stroke-width="0.9"/>
<text transform="translate(374.77,86.9) scale(1,0.68)" font-size="4.6" text-anchor="middle" fill="#1a1a1a" stroke="#1a1a1a" stroke-width="0.1">1500</text>
<line x1="387.7" y1="78.8" x2="387.7" y2="80.6" stroke="#151515" stroke-width="0.9"/>
<text transform="translate(387.7,86.9) scale(1,0.68)" font-size="4.6" text-anchor="middle" fill="#1a1a1a" stroke="#1a1a1a" stroke-width="0.1">2000</text>
<line x1="342.46" y1="78.8" x2="342.46" y2="80.1" stroke="#151515" stroke-width="0.8"/>
<line x1="355.39" y1="78.8" x2="355.39" y2="80.1" stroke="#151515" stroke-width="0.8"/>
<line x1="368.31" y1="78.8" x2="368.31" y2="80.1" stroke="#151515" stroke-width="0.8"/>
<line x1="381.24" y1="78.8" x2="381.24" y2="80.1" stroke="#151515" stroke-width="0.8"/>
<line x1="394.16" y1="78.8" x2="394.16" y2="80.1" stroke="#151515" stroke-width="0.8"/>
<text transform="translate(309.8,57.9) rotate(-90)" font-size="5.2" fill="#1a1a1a" stroke="#1a1a1a" stroke-width="0.1">R<tspan font-size="3.8" dy="1.9">eq</tspan></text>
<text x="363.2" y="97.6" font-size="6.5" font-weight="bold" text-anchor="middle" fill="#1a1a1a" stroke="#1a1a1a" stroke-width="0.12" textLength="26.7" lengthAdjust="spacingAndGlyphs">Analyte [<tspan font-style="italic">nM</tspan>]</text>
<text x="355" y="60.9" font-size="5.6" fill="#1a1a1a" stroke="#1a1a1a" stroke-width="0.08" textLength="31.9" lengthAdjust="spacingAndGlyphs"><tspan font-style="italic">K</tspan><tspan font-size="3.6" dy="1.3">D</tspan><tspan dy="-1.3"> = 252 </tspan><tspan font-style="italic">nM</tspan></text>
<path d="M336,76.3 C336.38,74.55 337.13,69.97 338.3,65.8 C339.47,61.63 341.25,54.83 343,51.3 C344.75,47.77 346.87,46.28 348.8,44.6 C350.73,42.92 352.42,42.1 354.6,41.2 C356.78,40.3 358.7,39.68 361.9,39.2 C365.1,38.72 369.5,38.52 373.8,38.3 C378.1,38.08 385.38,37.97 387.7,37.9" fill="none" stroke="#e796ac" stroke-opacity="0.4" stroke-width="2.4" stroke-linecap="round" stroke-linejoin="round"/>
<path d="M336,76.3 C336.38,74.55 337.13,69.97 338.3,65.8 C339.47,61.63 341.25,54.83 343,51.3 C344.75,47.77 346.87,46.28 348.8,44.6 C350.73,42.92 352.42,42.1 354.6,41.2 C356.78,40.3 358.7,39.68 361.9,39.2 C365.1,38.72 369.5,38.52 373.8,38.3 C378.1,38.08 385.38,37.97 387.7,37.9" fill="none" stroke="#86203d" stroke-width="1.15" stroke-linecap="round" stroke-linejoin="round"/>
<circle cx="336" cy="75.5" r="0.9" fill="#222"/>
<circle cx="336.6" cy="70" r="0.9" fill="#222"/>
<circle cx="348.8" cy="45.2" r="0.9" fill="#222"/>
<circle cx="361.9" cy="39.4" r="0.9" fill="#222"/>
<circle cx="387.7" cy="36" r="0.9" fill="#222"/>
<path d="M80.4,229.4 V281.4 H144.2" fill="none" stroke="#151515" stroke-width="1.5" stroke-linecap="square"/>
<line x1="78.4" y1="277.5" x2="80.4" y2="277.5" stroke="#151515" stroke-width="0.9"/>
<text transform="translate(75.4,278.6) scale(1,0.68)" font-size="4.6" text-anchor="end" fill="#1a1a1a" stroke="#1a1a1a" stroke-width="0.1">0</text>
<line x1="78.4" y1="270.99" x2="80.4" y2="270.99" stroke="#151515" stroke-width="0.9"/>
<text transform="translate(75.4,272.09) scale(1,0.68)" font-size="4.6" text-anchor="end" fill="#1a1a1a" stroke="#1a1a1a" stroke-width="0.1">10</text>
<line x1="78.4" y1="264.48" x2="80.4" y2="264.48" stroke="#151515" stroke-width="0.9"/>
<text transform="translate(75.4,265.58) scale(1,0.68)" font-size="4.6" text-anchor="end" fill="#1a1a1a" stroke="#1a1a1a" stroke-width="0.1">20</text>
<line x1="78.4" y1="257.97" x2="80.4" y2="257.97" stroke="#151515" stroke-width="0.9"/>
<text transform="translate(75.4,259.07) scale(1,0.68)" font-size="4.6" text-anchor="end" fill="#1a1a1a" stroke="#1a1a1a" stroke-width="0.1">30</text>
<line x1="78.4" y1="251.46" x2="80.4" y2="251.46" stroke="#151515" stroke-width="0.9"/>
<text transform="translate(75.4,252.56) scale(1,0.68)" font-size="4.6" text-anchor="end" fill="#1a1a1a" stroke="#1a1a1a" stroke-width="0.1">40</text>
<line x1="78.4" y1="244.95" x2="80.4" y2="244.95" stroke="#151515" stroke-width="0.9"/>
<text transform="translate(75.4,246.05) scale(1,0.68)" font-size="4.6" text-anchor="end" fill="#1a1a1a" stroke="#1a1a1a" stroke-width="0.1">50</text>
<line x1="78.4" y1="238.44" x2="80.4" y2="238.44" stroke="#151515" stroke-width="0.9"/>
<text transform="translate(75.4,239.54) scale(1,0.68)" font-size="4.6" text-anchor="end" fill="#1a1a1a" stroke="#1a1a1a" stroke-width="0.1">60</text>
<line x1="78.4" y1="231.93" x2="80.4" y2="231.93" stroke="#151515" stroke-width="0.9"/>
<text transform="translate(75.4,233.03) scale(1,0.68)" font-size="4.6" text-anchor="end" fill="#1a1a1a" stroke="#1a1a1a" stroke-width="0.1">70</text>
<line x1="79.1" y1="274.25" x2="80.4" y2="274.25" stroke="#151515" stroke-width="0.8"/>
<line x1="79.1" y1="267.74" x2="80.4" y2="267.74" stroke="#151515" stroke-width="0.8"/>
<line x1="79.1" y1="261.23" x2="80.4" y2="261.23" stroke="#151515" stroke-width="0.8"/>
<line x1="79.1" y1="254.72" x2="80.4" y2="254.72" stroke="#151515" stroke-width="0.8"/>
<line x1="79.1" y1="248.2" x2="80.4" y2="248.2" stroke="#151515" stroke-width="0.8"/>
<line x1="79.1" y1="241.69" x2="80.4" y2="241.69" stroke="#151515" stroke-width="0.8"/>
<line x1="79.1" y1="235.19" x2="80.4" y2="235.19" stroke="#151515" stroke-width="0.8"/>
<line x1="79.1" y1="228.68" x2="80.4" y2="228.68" stroke="#151515" stroke-width="0.8"/>
<line x1="86.2" y1="281.4" x2="86.2" y2="283.2" stroke="#151515" stroke-width="0.9"/>
<text transform="translate(86.2,289.5) scale(1,0.68)" font-size="4.6" text-anchor="middle" fill="#1a1a1a" stroke="#1a1a1a" stroke-width="0.1">0</text>
<line x1="98.6" y1="281.4" x2="98.6" y2="283.2" stroke="#151515" stroke-width="0.9"/>
<text transform="translate(98.6,289.5) scale(1,0.68)" font-size="4.6" text-anchor="middle" fill="#1a1a1a" stroke="#1a1a1a" stroke-width="0.1">500</text>
<line x1="111" y1="281.4" x2="111" y2="283.2" stroke="#151515" stroke-width="0.9"/>
<text transform="translate(111,289.5) scale(1,0.68)" font-size="4.6" text-anchor="middle" fill="#1a1a1a" stroke="#1a1a1a" stroke-width="0.1">1000</text>
<line x1="123.4" y1="281.4" x2="123.4" y2="283.2" stroke="#151515" stroke-width="0.9"/>
<text transform="translate(123.4,289.5) scale(1,0.68)" font-size="4.6" text-anchor="middle" fill="#1a1a1a" stroke="#1a1a1a" stroke-width="0.1">1500</text>
<line x1="135.8" y1="281.4" x2="135.8" y2="283.2" stroke="#151515" stroke-width="0.9"/>
<text transform="translate(135.8,289.5) scale(1,0.68)" font-size="4.6" text-anchor="middle" fill="#1a1a1a" stroke="#1a1a1a" stroke-width="0.1">2000</text>
<line x1="92.4" y1="281.4" x2="92.4" y2="282.7" stroke="#151515" stroke-width="0.8"/>
<line x1="104.8" y1="281.4" x2="104.8" y2="282.7" stroke="#151515" stroke-width="0.8"/>
<line x1="117.2" y1="281.4" x2="117.2" y2="282.7" stroke="#151515" stroke-width="0.8"/>
<line x1="129.6" y1="281.4" x2="129.6" y2="282.7" stroke="#151515" stroke-width="0.8"/>
<line x1="142" y1="281.4" x2="142" y2="282.7" stroke="#151515" stroke-width="0.8"/>
<text transform="translate(63,259.9) rotate(-90)" font-size="5.2" fill="#1a1a1a" stroke="#1a1a1a" stroke-width="0.1">R<tspan font-size="3.8" dy="1.9">eq</tspan></text>
<text x="112.2" y="300" font-size="6.5" font-weight="bold" text-anchor="middle" fill="#1a1a1a" stroke="#1a1a1a" stroke-width="0.12" textLength="26" lengthAdjust="spacingAndGlyphs">Analyte [<tspan font-style="italic">nM</tspan>]</text>
<text x="102.2" y="266.8" font-size="5.6" fill="#1a1a1a" stroke="#1a1a1a" stroke-width="0.08" textLength="31.2" lengthAdjust="spacingAndGlyphs"><tspan font-style="italic">K</tspan><tspan font-size="3.6" dy="1.3">D</tspan><tspan dy="-1.3"> = 376 </tspan><tspan font-style="italic">nM</tspan></text>
<path d="M86.7,275.4 C87.18,272.83 88.47,263.53 89.6,260 C90.73,256.47 92.05,255.97 93.5,254.2 C94.95,252.43 96.38,251 98.3,249.4 C100.22,247.8 102.92,245.95 105,244.6 C107.08,243.25 108.55,242.17 110.8,241.3 C113.05,240.43 115.63,239.87 118.5,239.4 C121.37,238.93 125.28,238.68 128,238.5 C130.72,238.32 133.67,238.33 134.8,238.3" fill="none" stroke="#e796ac" stroke-opacity="0.4" stroke-width="2.4" stroke-linecap="round" stroke-linejoin="round"/>
<path d="M86.7,275.4 C87.18,272.83 88.47,263.53 89.6,260 C90.73,256.47 92.05,255.97 93.5,254.2 C94.95,252.43 96.38,251 98.3,249.4 C100.22,247.8 102.92,245.95 105,244.6 C107.08,243.25 108.55,242.17 110.8,241.3 C113.05,240.43 115.63,239.87 118.5,239.4 C121.37,238.93 125.28,238.68 128,238.5 C130.72,238.32 133.67,238.33 134.8,238.3" fill="none" stroke="#86203d" stroke-width="1.15" stroke-linecap="round" stroke-linejoin="round"/>
<circle cx="86.7" cy="274.5" r="0.9" fill="#222"/>
<circle cx="87.5" cy="267" r="0.9" fill="#222"/>
<circle cx="88.2" cy="264" r="0.9" fill="#222"/>
<circle cx="89.6" cy="260.6" r="0.9" fill="#222"/>
<circle cx="98.3" cy="249.4" r="0.9" fill="#222"/>
<circle cx="110.8" cy="243" r="0.9" fill="#222"/>
<circle cx="135.4" cy="235.6" r="0.9" fill="#222"/>
<path d="M331.9,226.6 V277.7 H399.8" fill="none" stroke="#151515" stroke-width="1.5" stroke-linecap="square"/>
<line x1="329.9" y1="273.6" x2="331.9" y2="273.6" stroke="#151515" stroke-width="0.9"/>
<text transform="translate(326.9,274.7) scale(1,0.68)" font-size="4.6" text-anchor="end" fill="#1a1a1a" stroke="#1a1a1a" stroke-width="0.1">0</text>
<line x1="329.9" y1="264.74" x2="331.9" y2="264.74" stroke="#151515" stroke-width="0.9"/>
<text transform="translate(326.9,265.84) scale(1,0.68)" font-size="4.6" text-anchor="end" fill="#1a1a1a" stroke="#1a1a1a" stroke-width="0.1">100</text>
<line x1="329.9" y1="255.88" x2="331.9" y2="255.88" stroke="#151515" stroke-width="0.9"/>
<text transform="translate(326.9,256.98) scale(1,0.68)" font-size="4.6" text-anchor="end" fill="#1a1a1a" stroke="#1a1a1a" stroke-width="0.1">200</text>
<line x1="329.9" y1="247.02" x2="331.9" y2="247.02" stroke="#151515" stroke-width="0.9"/>
<text transform="translate(326.9,248.12) scale(1,0.68)" font-size="4.6" text-anchor="end" fill="#1a1a1a" stroke="#1a1a1a" stroke-width="0.1">300</text>
<line x1="329.9" y1="238.16" x2="331.9" y2="238.16" stroke="#151515" stroke-width="0.9"/>
<text transform="translate(326.9,239.26) scale(1,0.68)" font-size="4.6" text-anchor="end" fill="#1a1a1a" stroke="#1a1a1a" stroke-width="0.1">400</text>
<line x1="329.9" y1="229.3" x2="331.9" y2="229.3" stroke="#151515" stroke-width="0.9"/>
<text transform="translate(326.9,230.4) scale(1,0.68)" font-size="4.6" text-anchor="end" fill="#1a1a1a" stroke="#1a1a1a" stroke-width="0.1">500</text>
<line x1="330.6" y1="269.17" x2="331.9" y2="269.17" stroke="#151515" stroke-width="0.8"/>
<line x1="330.6" y1="260.31" x2="331.9" y2="260.31" stroke="#151515" stroke-width="0.8"/>
<line x1="330.6" y1="251.45" x2="331.9" y2="251.45" stroke="#151515" stroke-width="0.8"/>
<line x1="330.6" y1="242.59" x2="331.9" y2="242.59" stroke="#151515" stroke-width="0.8"/>
<line x1="330.6" y1="233.73" x2="331.9" y2="233.73" stroke="#151515" stroke-width="0.8"/>
<line x1="338.7" y1="277.7" x2="338.7" y2="279.5" stroke="#151515" stroke-width="0.9"/>
<text transform="translate(338.7,285.8) scale(1,0.68)" font-size="4.6" text-anchor="middle" fill="#1a1a1a" stroke="#1a1a1a" stroke-width="0.1">0</text>
<line x1="351.72" y1="277.7" x2="351.72" y2="279.5" stroke="#151515" stroke-width="0.9"/>
<text transform="translate(351.72,285.8) scale(1,0.68)" font-size="4.6" text-anchor="middle" fill="#1a1a1a" stroke="#1a1a1a" stroke-width="0.1">500</text>
<line x1="364.75" y1="277.7" x2="364.75" y2="279.5" stroke="#151515" stroke-width="0.9"/>
<text transform="translate(364.75,285.8) scale(1,0.68)" font-size="4.6" text-anchor="middle" fill="#1a1a1a" stroke="#1a1a1a" stroke-width="0.1">1000</text>
<line x1="377.77" y1="277.7" x2="377.77" y2="279.5" stroke="#151515" stroke-width="0.9"/>
<text transform="translate(377.77,285.8) scale(1,0.68)" font-size="4.6" text-anchor="middle" fill="#1a1a1a" stroke="#1a1a1a" stroke-width="0.1">1500</text>
<line x1="390.8" y1="277.7" x2="390.8" y2="279.5" stroke="#151515" stroke-width="0.9"/>
<text transform="translate(390.8,285.8) scale(1,0.68)" font-size="4.6" text-anchor="middle" fill="#1a1a1a" stroke="#1a1a1a" stroke-width="0.1">2000</text>
<line x1="345.21" y1="277.7" x2="345.21" y2="279" stroke="#151515" stroke-width="0.8"/>
<line x1="358.24" y1="277.7" x2="358.24" y2="279" stroke="#151515" stroke-width="0.8"/>
<line x1="371.26" y1="277.7" x2="371.26" y2="279" stroke="#151515" stroke-width="0.8"/>
<line x1="384.29" y1="277.7" x2="384.29" y2="279" stroke="#151515" stroke-width="0.8"/>
<line x1="397.31" y1="277.7" x2="397.31" y2="279" stroke="#151515" stroke-width="0.8"/>
<text transform="translate(312.6,256.5) rotate(-90)" font-size="5.2" fill="#1a1a1a" stroke="#1a1a1a" stroke-width="0.1">R<tspan font-size="3.8" dy="1.9">eq</tspan></text>
<text x="366.2" y="296.1" font-size="6.5" font-weight="bold" text-anchor="middle" fill="#1a1a1a" stroke="#1a1a1a" stroke-width="0.12" textLength="26" lengthAdjust="spacingAndGlyphs">Analyte [<tspan font-style="italic">nM</tspan>]</text>
<text x="355.4" y="265.6" font-size="5.6" fill="#1a1a1a" stroke="#1a1a1a" stroke-width="0.08" textLength="31.4" lengthAdjust="spacingAndGlyphs"><tspan font-style="italic">K</tspan><tspan font-size="3.6" dy="1.3">D</tspan><tspan dy="-1.3"> = 207 </tspan><tspan font-style="italic">nM</tspan></text>
<path d="M338.7,272.5 C338.95,270.73 339.47,265.27 340.2,261.9 C340.93,258.53 341.98,255.02 343.1,252.3 C344.22,249.58 345.47,247.45 346.9,245.6 C348.33,243.75 349.77,242.33 351.7,241.2 C353.63,240.07 356.25,239.28 358.5,238.8 C360.75,238.32 362,238.45 365.2,238.3 C368.4,238.15 373.37,238.07 377.7,237.9 C382.03,237.73 388.95,237.4 391.2,237.3" fill="none" stroke="#e796ac" stroke-opacity="0.4" stroke-width="2.4" stroke-linecap="round" stroke-linejoin="round"/>
<path d="M338.7,272.5 C338.95,270.73 339.47,265.27 340.2,261.9 C340.93,258.53 341.98,255.02 343.1,252.3 C344.22,249.58 345.47,247.45 346.9,245.6 C348.33,243.75 349.77,242.33 351.7,241.2 C353.63,240.07 356.25,239.28 358.5,238.8 C360.75,238.32 362,238.45 365.2,238.3 C368.4,238.15 373.37,238.07 377.7,237.9 C382.03,237.73 388.95,237.4 391.2,237.3" fill="none" stroke="#86203d" stroke-width="1.15" stroke-linecap="round" stroke-linejoin="round"/>
<circle cx="338.7" cy="272.5" r="0.9" fill="#222"/>
<circle cx="351.7" cy="241.7" r="0.9" fill="#222"/>
<circle cx="365.2" cy="238.5" r="0.9" fill="#222"/>
<circle cx="391.5" cy="236" r="0.9" fill="#222"/>
<path d="M79.7,435 V485 H147.9" fill="none" stroke="#151515" stroke-width="1.5" stroke-linecap="square"/>
<line x1="77.7" y1="482.3" x2="79.7" y2="482.3" stroke="#151515" stroke-width="0.9"/>
<text transform="translate(74.7,483.4) scale(1,0.68)" font-size="4.6" text-anchor="end" fill="#1a1a1a" stroke="#1a1a1a" stroke-width="0.1">0</text>
<line x1="77.7" y1="477.05" x2="79.7" y2="477.05" stroke="#151515" stroke-width="0.9"/>
<text transform="translate(74.7,478.15) scale(1,0.68)" font-size="4.6" text-anchor="end" fill="#1a1a1a" stroke="#1a1a1a" stroke-width="0.1">50</text>
<line x1="77.7" y1="471.8" x2="79.7" y2="471.8" stroke="#151515" stroke-width="0.9"/>
<text transform="translate(74.7,472.9) scale(1,0.68)" font-size="4.6" text-anchor="end" fill="#1a1a1a" stroke="#1a1a1a" stroke-width="0.1">100</text>
<line x1="77.7" y1="466.55" x2="79.7" y2="466.55" stroke="#151515" stroke-width="0.9"/>
<text transform="translate(74.7,467.65) scale(1,0.68)" font-size="4.6" text-anchor="end" fill="#1a1a1a" stroke="#1a1a1a" stroke-width="0.1">150</text>
<line x1="77.7" y1="461.3" x2="79.7" y2="461.3" stroke="#151515" stroke-width="0.9"/>
<text transform="translate(74.7,462.4) scale(1,0.68)" font-size="4.6" text-anchor="end" fill="#1a1a1a" stroke="#1a1a1a" stroke-width="0.1">200</text>
<line x1="77.7" y1="456.05" x2="79.7" y2="456.05" stroke="#151515" stroke-width="0.9"/>
<text transform="translate(74.7,457.15) scale(1,0.68)" font-size="4.6" text-anchor="end" fill="#1a1a1a" stroke="#1a1a1a" stroke-width="0.1">250</text>
<line x1="77.7" y1="450.8" x2="79.7" y2="450.8" stroke="#151515" stroke-width="0.9"/>
<text transform="translate(74.7,451.9) scale(1,0.68)" font-size="4.6" text-anchor="end" fill="#1a1a1a" stroke="#1a1a1a" stroke-width="0.1">300</text>
<line x1="77.7" y1="445.55" x2="79.7" y2="445.55" stroke="#151515" stroke-width="0.9"/>
<text transform="translate(74.7,446.65) scale(1,0.68)" font-size="4.6" text-anchor="end" fill="#1a1a1a" stroke="#1a1a1a" stroke-width="0.1">350</text>
<line x1="77.7" y1="440.3" x2="79.7" y2="440.3" stroke="#151515" stroke-width="0.9"/>
<text transform="translate(74.7,441.4) scale(1,0.68)" font-size="4.6" text-anchor="end" fill="#1a1a1a" stroke="#1a1a1a" stroke-width="0.1">400</text>
<line x1="78.4" y1="479.68" x2="79.7" y2="479.68" stroke="#151515" stroke-width="0.8"/>
<line x1="78.4" y1="474.43" x2="79.7" y2="474.43" stroke="#151515" stroke-width="0.8"/>
<line x1="78.4" y1="469.18" x2="79.7" y2="469.18" stroke="#151515" stroke-width="0.8"/>
<line x1="78.4" y1="463.93" x2="79.7" y2="463.93" stroke="#151515" stroke-width="0.8"/>
<line x1="78.4" y1="458.68" x2="79.7" y2="458.68" stroke="#151515" stroke-width="0.8"/>
<line x1="78.4" y1="453.43" x2="79.7" y2="453.43" stroke="#151515" stroke-width="0.8"/>
<line x1="78.4" y1="448.18" x2="79.7" y2="448.18" stroke="#151515" stroke-width="0.8"/>
<line x1="78.4" y1="442.93" x2="79.7" y2="442.93" stroke="#151515" stroke-width="0.8"/>
<line x1="78.4" y1="437.68" x2="79.7" y2="437.68" stroke="#151515" stroke-width="0.8"/>
<line x1="86.9" y1="485" x2="86.9" y2="486.8" stroke="#151515" stroke-width="0.9"/>
<text transform="translate(86.9,493.1) scale(1,0.68)" font-size="4.6" text-anchor="middle" fill="#1a1a1a" stroke="#1a1a1a" stroke-width="0.1">0</text>
<line x1="99.75" y1="485" x2="99.75" y2="486.8" stroke="#151515" stroke-width="0.9"/>
<text transform="translate(99.75,493.1) scale(1,0.68)" font-size="4.6" text-anchor="middle" fill="#1a1a1a" stroke="#1a1a1a" stroke-width="0.1">500</text>
<line x1="112.6" y1="485" x2="112.6" y2="486.8" stroke="#151515" stroke-width="0.9"/>
<text transform="translate(112.6,493.1) scale(1,0.68)" font-size="4.6" text-anchor="middle" fill="#1a1a1a" stroke="#1a1a1a" stroke-width="0.1">1000</text>
<line x1="125.45" y1="485" x2="125.45" y2="486.8" stroke="#151515" stroke-width="0.9"/>
<text transform="translate(125.45,493.1) scale(1,0.68)" font-size="4.6" text-anchor="middle" fill="#1a1a1a" stroke="#1a1a1a" stroke-width="0.1">1500</text>
<line x1="138.3" y1="485" x2="138.3" y2="486.8" stroke="#151515" stroke-width="0.9"/>
<text transform="translate(138.3,493.1) scale(1,0.68)" font-size="4.6" text-anchor="middle" fill="#1a1a1a" stroke="#1a1a1a" stroke-width="0.1">2000</text>
<line x1="93.33" y1="485" x2="93.33" y2="486.3" stroke="#151515" stroke-width="0.8"/>
<line x1="106.18" y1="485" x2="106.18" y2="486.3" stroke="#151515" stroke-width="0.8"/>
<line x1="119.03" y1="485" x2="119.03" y2="486.3" stroke="#151515" stroke-width="0.8"/>
<line x1="131.88" y1="485" x2="131.88" y2="486.3" stroke="#151515" stroke-width="0.8"/>
<line x1="144.73" y1="485" x2="144.73" y2="486.3" stroke="#151515" stroke-width="0.8"/>
<text transform="translate(60.6,464.5) rotate(-90)" font-size="5.2" fill="#1a1a1a" stroke="#1a1a1a" stroke-width="0.1">R<tspan font-size="3.8" dy="1.9">eq</tspan></text>
<text x="112.7" y="502.9" font-size="6.5" font-weight="bold" text-anchor="middle" fill="#1a1a1a" stroke="#1a1a1a" stroke-width="0.12" textLength="26.4" lengthAdjust="spacingAndGlyphs">Analyte [<tspan font-style="italic">nM</tspan>]</text>
<text x="106.5" y="476.8" font-size="5.6" fill="#1a1a1a" stroke="#1a1a1a" stroke-width="0.08" textLength="31.6" lengthAdjust="spacingAndGlyphs"><tspan font-style="italic">K</tspan><tspan font-size="3.6" dy="1.3">D</tspan><tspan dy="-1.3"> = 261 </tspan><tspan font-style="italic">nM</tspan></text>
<path d="M86.9,481.2 C87.28,479 88.18,471.63 89.2,468 C90.22,464.37 91.4,461.95 93,459.4 C94.6,456.85 96.87,454.47 98.8,452.7 C100.73,450.93 102.35,449.83 104.6,448.8 C106.85,447.77 109.1,447.07 112.3,446.5 C115.5,445.93 119.57,445.65 123.8,445.4 C128.03,445.15 135.38,445.07 137.7,445" fill="none" stroke="#e796ac" stroke-opacity="0.4" stroke-width="2.4" stroke-linecap="round" stroke-linejoin="round"/>
<path d="M86.9,481.2 C87.28,479 88.18,471.63 89.2,468 C90.22,464.37 91.4,461.95 93,459.4 C94.6,456.85 96.87,454.47 98.8,452.7 C100.73,450.93 102.35,449.83 104.6,448.8 C106.85,447.77 109.1,447.07 112.3,446.5 C115.5,445.93 119.57,445.65 123.8,445.4 C128.03,445.15 135.38,445.07 137.7,445" fill="none" stroke="#86203d" stroke-width="1.15" stroke-linecap="round" stroke-linejoin="round"/>
<circle cx="86.9" cy="481" r="0.9" fill="#222"/>
<circle cx="99.8" cy="453" r="0.9" fill="#222"/>
<circle cx="112.3" cy="448.5" r="0.9" fill="#222"/>
<circle cx="137.7" cy="442.7" r="0.9" fill="#222"/>
<text x="63.3" y="147" font-size="4.3" fill="#111" font-style="italic">k</text>
<text x="65.6" y="148.8" font-size="3.3" font-weight="bold" fill="#222" textLength="16.8" lengthAdjust="spacingAndGlyphs">on apparent</text>
<text x="74.1" y="156.3" font-size="5.1" fill="#111">= 597 M<tspan font-size="3.2" dy="-2.1">&#8211;1</tspan><tspan dy="2.1"> s</tspan><tspan font-size="3.2" dy="-2.1">&#8211;1</tspan></text>
<text x="212.1" y="64.7" font-size="4.3" fill="#111" font-style="italic">k</text>
<text x="214.4" y="66.5" font-size="3.3" font-weight="bold" fill="#222" textLength="17.2" lengthAdjust="spacingAndGlyphs">off apparent</text>
<text x="223.1" y="73.7" font-size="5.1" fill="#111">= 1.6 x 10<tspan font-size="3.2" dy="-2.1">&#8211;4</tspan><tspan dy="2.1"> s</tspan><tspan font-size="3.2" dy="-2.1">&#8211;1</tspan></text>
<text x="307.5" y="141.1" font-size="4.3" fill="#111" font-style="italic">k</text>
<text x="309.8" y="142.9" font-size="3.3" font-weight="bold" fill="#222" textLength="16.8" lengthAdjust="spacingAndGlyphs">on apparent</text>
<text x="317.3" y="150.8" font-size="5.1" fill="#111">= 704 M<tspan font-size="3.2" dy="-2.1">&#8211;1</tspan><tspan dy="2.1"> s</tspan><tspan font-size="3.2" dy="-2.1">&#8211;1</tspan></text>
<text x="464.6" y="60" font-size="4.3" fill="#111" font-style="italic">k</text>
<text x="466.9" y="61.8" font-size="3.3" font-weight="bold" fill="#222" textLength="17.2" lengthAdjust="spacingAndGlyphs">off apparent</text>
<text x="475.4" y="69.5" font-size="5.1" fill="#111">= 2 x 10<tspan font-size="3.2" dy="-2.1">&#8211;4</tspan><tspan dy="2.1"> s</tspan><tspan font-size="3.2" dy="-2.1">&#8211;1</tspan></text>
<text x="58.5" y="332.8" font-size="4.3" fill="#111" font-style="italic">k</text>
<text x="60.8" y="334.6" font-size="3.3" font-weight="bold" fill="#222" textLength="16.8" lengthAdjust="spacingAndGlyphs">on apparent</text>
<text x="69" y="340.4" font-size="5.1" fill="#111">= 1064 M<tspan font-size="3.2" dy="-2.1">&#8211;1</tspan><tspan dy="2.1"> s</tspan><tspan font-size="3.2" dy="-2.1">&#8211;1</tspan></text>
<text x="211.5" y="279.2" font-size="4.3" fill="#111" font-style="italic">k</text>
<text x="213.8" y="281" font-size="3.3" font-weight="bold" fill="#222" textLength="17.2" lengthAdjust="spacingAndGlyphs">off apparent</text>
<text x="221.3" y="289" font-size="5.1" fill="#111">= 4.2 x 10<tspan font-size="3.2" dy="-2.1">&#8211;4</tspan><tspan dy="2.1"> s</tspan><tspan font-size="3.2" dy="-2.1">&#8211;1</tspan></text>
<text x="306.5" y="344.7" font-size="4.3" fill="#111" font-style="italic">k</text>
<text x="308.8" y="346.5" font-size="3.3" font-weight="bold" fill="#222" textLength="16.8" lengthAdjust="spacingAndGlyphs">on apparent</text>
<text x="317" y="354.1" font-size="5.1" fill="#111">= 797 M<tspan font-size="3.2" dy="-2.1">&#8211;1</tspan><tspan dy="2.1"> s</tspan><tspan font-size="3.2" dy="-2.1">&#8211;1</tspan></text>
<text x="457.2" y="293" font-size="4.3" fill="#111" font-style="italic">k</text>
<text x="459.5" y="294.8" font-size="3.3" font-weight="bold" fill="#222" textLength="17.2" lengthAdjust="spacingAndGlyphs">off apparent</text>
<text x="468.5" y="301.8" font-size="5.1" fill="#111">= 1.6 x 10<tspan font-size="3.2" dy="-2.1">&#8211;4</tspan><tspan dy="2.1"> s</tspan><tspan font-size="3.2" dy="-2.1">&#8211;1</tspan></text>
<text x="57.7" y="553" font-size="4.3" fill="#111" font-style="italic">k</text>
<text x="60" y="554.8" font-size="3.3" font-weight="bold" fill="#222" textLength="16.8" lengthAdjust="spacingAndGlyphs">on apparent</text>
<text x="68" y="561.4" font-size="5.1" fill="#111">= 728 M<tspan font-size="3.2" dy="-2.1">&#8211;1</tspan><tspan dy="2.1"> s</tspan><tspan font-size="3.2" dy="-2.1">&#8211;1</tspan></text>
<text x="212.3" y="476.1" font-size="4.3" fill="#111" font-style="italic">k</text>
<text x="214.6" y="477.9" font-size="3.3" font-weight="bold" fill="#222" textLength="17.2" lengthAdjust="spacingAndGlyphs">off apparent</text>
<text x="223" y="484.8" font-size="5.1" fill="#111">= 1.9 x 10<tspan font-size="3.2" dy="-2.1">&#8211;4</tspan><tspan dy="2.1"> s</tspan><tspan font-size="3.2" dy="-2.1">&#8211;1</tspan></text>
<path d="M69.3,163.6 L73.6,164.2 L79.9,164.7 L86.1,163.8 L91.9,163.8 L95.7,162.6 L100.5,161.2 L100.64,161.18 L100.79,161.16 L100.93,161.14 L101.07,161.13 L101.21,161.11 L101.36,161.09 L101.5,161.08 L101.64,161.07 L101.79,161.05 L101.93,161.04 L102.07,161.03 L102.21,161.02 L102.36,161.01 L102.5,161 L102.7,161.13 L102.9,161.24 L103.1,161.35 L103.3,161.45 L103.5,161.54 L103.7,161.62 L103.9,161.7 L104.1,161.77 L104.3,161.84 L104.5,161.9 L104.7,161.95 L104.9,162.01 L105.1,162.06 L105.3,162.1 L105.89,161.55 L106.47,161.05 L107.06,160.57 L107.64,160.13 L108.23,159.72 L108.81,159.34 L109.4,158.99 L109.99,158.66 L110.57,158.35 L111.16,158.06 L111.74,157.8 L112.33,157.55 L112.91,157.32 L113.5,157.1 L113.8,157.26 L114.1,157.41 L114.4,157.54 L114.7,157.67 L115,157.78 L115.3,157.89 L115.6,157.99 L115.9,158.08 L116.2,158.17 L116.5,158.24 L116.8,158.32 L117.1,158.38 L117.4,158.44 L117.7,158.5 L118.26,157.46 L118.83,156.51 L119.39,155.63 L119.96,154.81 L120.52,154.06 L121.09,153.36 L121.65,152.72 L122.21,152.12 L122.78,151.58 L123.34,151.07 L123.91,150.6 L124.47,150.17 L125.04,149.77 L125.6,149.4 L125.91,149.62 L126.21,149.82 L126.52,150 L126.83,150.17 L127.14,150.33 L127.44,150.47 L127.75,150.61 L128.06,150.73 L128.36,150.85 L128.67,150.95 L128.98,151.05 L129.29,151.14 L129.59,151.22 L129.9,151.3 L130.45,149.59 L131,148.02 L131.55,146.59 L132.1,145.28 L132.65,144.08 L133.2,142.99 L133.75,141.99 L134.3,141.07 L134.85,140.23 L135.4,139.46 L135.95,138.76 L136.5,138.12 L137.05,137.54 L137.6,137 L137.91,137.36 L138.23,137.7 L138.54,138.01 L138.86,138.3 L139.17,138.56 L139.49,138.81 L139.8,139.03 L140.11,139.24 L140.43,139.44 L140.74,139.61 L141.06,139.78 L141.37,139.93 L141.69,140.07 L142,140.2 L142.57,137.5 L143.14,135.05 L143.71,132.85 L144.29,130.86 L144.86,129.06 L145.43,127.43 L146,125.97 L146.57,124.64 L147.14,123.45 L147.71,122.37 L148.29,121.39 L148.86,120.51 L149.43,119.72 L150,119 L150.3,119.48 L150.6,119.92 L150.9,120.33 L151.2,120.7 L151.5,121.05 L151.8,121.37 L152.1,121.67 L152.4,121.94 L152.7,122.2 L153,122.43 L153.3,122.65 L153.6,122.85 L153.9,123.03 L154.2,123.2 L154.74,119.62 L155.29,116.43 L155.83,113.61 L156.37,111.1 L156.91,108.88 L157.46,106.9 L158,105.15 L158.54,103.59 L159.09,102.21 L159.63,100.98 L160.17,99.89 L160.71,98.92 L161.26,98.06 L161.8,97.3 L162.14,98.04 L162.49,98.72 L162.83,99.35 L163.17,99.94 L163.51,100.47 L163.86,100.97 L164.2,101.43 L164.54,101.85 L164.89,102.25 L165.23,102.61 L165.57,102.94 L165.91,103.25 L166.26,103.54 L166.6,103.8 L167.15,99.66 L167.7,96.07 L168.25,92.96 L168.8,90.26 L169.35,87.92 L169.9,85.89 L170.45,84.13 L171,82.61 L171.55,81.29 L172.1,80.15 L172.65,79.15 L173.2,78.29 L173.75,77.55 L174.3,76.9 L174.61,77.9 L174.93,78.83 L175.24,79.68 L175.56,80.47 L175.87,81.2 L176.19,81.87 L176.5,82.49 L176.81,83.07 L177.13,83.6 L177.44,84.09 L177.76,84.54 L178.07,84.96 L178.39,85.34 L178.7,85.7 L179.21,81.67 L179.73,78.23 L180.24,75.29 L180.76,72.78 L181.27,70.65 L181.79,68.82 L182.3,67.27 L182.81,65.94 L183.33,64.81 L183.84,63.84 L184.36,63.02 L184.87,62.31 L185.39,61.71 L185.9,61.2 L186.27,62.47 L186.64,63.65 L187.01,64.74 L187.39,65.74 L187.76,66.67 L188.13,67.53 L188.5,68.32 L188.87,69.05 L189.24,69.72 L189.61,70.35 L189.99,70.92 L190.36,71.45 L190.73,71.95 L191.1,72.4 L191.66,66.36 L192.21,61.87 L192.77,58.54 L193.33,56.07 L193.89,54.23 L194.44,52.87 L195,51.86 L195.56,51.11 L196.11,50.55 L196.67,50.13 L197.23,49.82 L197.79,49.6 L198.34,49.43 L198.9,49.3 C198.97,50.3 199.05,53.62 199.3,55.3 C199.55,56.98 199.9,57.83 200.4,59.4 C200.9,60.97 201.5,63.1 202.3,64.7 C203.1,66.3 203.92,67.48 205.2,69 C206.48,70.52 208.23,72.43 210,73.8 C211.77,75.17 213.55,76 215.8,77.2 C218.05,78.4 220.93,79.97 223.5,81 C226.07,82.03 229.92,83 231.2,83.4" fill="none" stroke="#232b47" stroke-width="1.4" stroke-linejoin="round"/>
<path d="M316.3,159.4 L321.5,160.1 L328.5,160.6 L335.4,159.2 L340.6,160.4 L341.17,160.06 L341.74,159.74 L342.31,159.45 L342.89,159.16 L343.46,158.9 L344.03,158.65 L344.6,158.41 L345.17,158.19 L345.74,157.98 L346.31,157.78 L346.89,157.6 L347.46,157.42 L348.03,157.26 L348.6,157.1 L348.89,157.2 L349.19,157.3 L349.48,157.39 L349.77,157.47 L350.06,157.56 L350.36,157.63 L350.65,157.7 L350.94,157.77 L351.24,157.83 L351.53,157.89 L351.82,157.95 L352.11,158 L352.41,158.05 L352.7,158.1 L353.24,157.49 L353.77,156.92 L354.31,156.39 L354.84,155.9 L355.38,155.44 L355.91,155.01 L356.45,154.61 L356.99,154.24 L357.52,153.9 L358.06,153.58 L358.59,153.28 L359.13,153 L359.66,152.74 L360.2,152.5 L360.51,152.63 L360.81,152.76 L361.12,152.88 L361.43,152.99 L361.74,153.09 L362.04,153.19 L362.35,153.28 L362.66,153.37 L362.96,153.45 L363.27,153.53 L363.58,153.6 L363.89,153.67 L364.19,153.74 L364.5,153.8 L365.07,152.73 L365.64,151.74 L366.21,150.83 L366.79,149.99 L367.36,149.21 L367.93,148.49 L368.5,147.83 L369.07,147.21 L369.64,146.65 L370.21,146.12 L370.79,145.64 L371.36,145.19 L371.93,144.78 L372.5,144.4 L372.81,144.62 L373.13,144.84 L373.44,145.04 L373.76,145.22 L374.07,145.4 L374.39,145.57 L374.7,145.73 L375.01,145.87 L375.33,146.01 L375.64,146.15 L375.96,146.27 L376.27,146.39 L376.59,146.5 L376.9,146.6 L377.47,144.76 L378.04,143.07 L378.61,141.53 L379.19,140.12 L379.76,138.83 L380.33,137.65 L380.9,136.57 L381.47,135.58 L382.04,134.68 L382.61,133.85 L383.19,133.1 L383.76,132.41 L384.33,131.78 L384.9,131.2 L385.19,131.52 L385.47,131.82 L385.76,132.1 L386.04,132.36 L386.33,132.61 L386.61,132.85 L386.9,133.07 L387.19,133.28 L387.47,133.47 L387.76,133.66 L388.04,133.83 L388.33,134 L388.61,134.15 L388.9,134.3 L389.49,131.48 L390.07,128.93 L390.66,126.64 L391.24,124.56 L391.83,122.68 L392.41,120.99 L393,119.46 L393.59,118.08 L394.17,116.84 L394.76,115.71 L395.34,114.69 L395.93,113.78 L396.51,112.95 L397.1,112.2 L397.41,112.69 L397.73,113.15 L398.04,113.59 L398.36,114 L398.67,114.39 L398.99,114.75 L399.3,115.09 L399.61,115.42 L399.93,115.72 L400.24,116.01 L400.56,116.28 L400.87,116.53 L401.19,116.77 L401.5,117 L402.07,113.28 L402.64,109.97 L403.21,107.04 L403.79,104.44 L404.36,102.12 L404.93,100.07 L405.5,98.25 L406.07,96.63 L406.64,95.2 L407.21,93.92 L407.79,92.79 L408.36,91.78 L408.93,90.89 L409.5,90.1 L409.82,90.89 L410.14,91.63 L410.46,92.33 L410.79,92.99 L411.11,93.61 L411.43,94.19 L411.75,94.74 L412.07,95.26 L412.39,95.75 L412.71,96.21 L413.04,96.64 L413.36,97.05 L413.68,97.44 L414,97.8 L414.57,93.71 L415.14,90.15 L415.71,87.04 L416.29,84.33 L416.86,81.97 L417.43,79.92 L418,78.12 L418.57,76.56 L419.14,75.2 L419.71,74.01 L420.29,72.97 L420.86,72.07 L421.43,71.29 L422,70.6 L422.29,71.63 L422.57,72.6 L422.86,73.52 L423.14,74.38 L423.43,75.2 L423.71,75.96 L424,76.69 L424.29,77.37 L424.57,78.01 L424.86,78.61 L425.14,79.18 L425.43,79.72 L425.71,80.22 L426,80.7 L426.56,76.85 L427.11,73.46 L427.67,70.49 L428.23,67.88 L428.79,65.59 L429.34,63.58 L429.9,61.81 L430.46,60.26 L431.01,58.89 L431.57,57.7 L432.13,56.65 L432.69,55.72 L433.24,54.91 L433.8,54.2 L434.12,55.65 L434.44,57.02 L434.76,58.31 L435.09,59.52 L435.41,60.66 L435.73,61.74 L436.05,62.76 L436.37,63.71 L436.69,64.62 L437.01,65.47 L437.34,66.27 L437.66,67.02 L437.98,67.73 L438.3,68.4 L438.86,61.65 L439.41,56.64 L439.97,52.92 L440.53,50.16 L441.09,48.11 L441.64,46.59 L442.2,45.46 L442.76,44.62 L443.31,43.99 L443.87,43.53 L444.43,43.19 L444.99,42.93 L445.54,42.74 L446.1,42.6 C446.18,43.8 446.28,47.55 446.6,49.8 C446.92,52.05 447.33,53.9 448,56.1 C448.67,58.3 449.55,60.97 450.6,63 C451.65,65.03 452.8,66.63 454.3,68.3 C455.8,69.97 457.48,71.42 459.6,73 C461.72,74.58 464.53,76.47 467,77.8 C469.47,79.13 472.37,80.25 474.4,81 C476.43,81.75 478.4,82.08 479.2,82.3" fill="none" stroke="#232b47" stroke-width="1.4" stroke-linejoin="round"/>
<path d="M316.4,361.2 L324,360.8 L332.3,360.3 L340,358.1 L344,357.8 L344.58,357.47 L345.16,357.16 L345.74,356.87 L346.31,356.6 L346.89,356.34 L347.47,356.1 L348.05,355.87 L348.63,355.66 L349.21,355.45 L349.79,355.26 L350.36,355.08 L350.94,354.91 L351.52,354.75 L352.1,354.6 L352.43,354.69 L352.76,354.78 L353.09,354.86 L353.41,354.94 L353.74,355.01 L354.07,355.08 L354.4,355.14 L354.73,355.2 L355.06,355.26 L355.39,355.31 L355.71,355.36 L356.04,355.41 L356.37,355.46 L356.7,355.5 L357.24,354.94 L357.77,354.41 L358.31,353.91 L358.84,353.44 L359.38,353 L359.91,352.58 L360.45,352.19 L360.99,351.81 L361.52,351.47 L362.06,351.14 L362.59,350.83 L363.13,350.53 L363.66,350.26 L364.2,350 L364.53,350.06 L364.86,350.12 L365.19,350.17 L365.51,350.22 L365.84,350.27 L366.17,350.32 L366.5,350.36 L366.83,350.4 L367.16,350.44 L367.49,350.48 L367.81,350.51 L368.14,350.54 L368.47,350.57 L368.8,350.6 L369.38,349.62 L369.96,348.7 L370.54,347.84 L371.11,347.04 L371.69,346.28 L372.27,345.57 L372.85,344.91 L373.43,344.29 L374.01,343.71 L374.59,343.16 L375.16,342.65 L375.74,342.17 L376.32,341.72 L376.9,341.3 L377.19,341.45 L377.47,341.6 L377.76,341.73 L378.04,341.86 L378.33,341.98 L378.61,342.1 L378.9,342.2 L379.19,342.31 L379.47,342.4 L379.76,342.49 L380.04,342.57 L380.33,342.65 L380.61,342.73 L380.9,342.8 L381.44,341.13 L381.97,339.58 L382.51,338.13 L383.04,336.78 L383.58,335.53 L384.11,334.36 L384.65,333.28 L385.19,332.26 L385.72,331.32 L386.26,330.44 L386.79,329.63 L387.33,328.87 L387.86,328.16 L388.4,327.5 L388.74,327.67 L389.07,327.84 L389.41,327.99 L389.74,328.14 L390.08,328.27 L390.41,328.4 L390.75,328.52 L391.09,328.64 L391.42,328.75 L391.76,328.85 L392.09,328.94 L392.43,329.03 L392.76,329.12 L393.1,329.2 L393.66,326.62 L394.23,324.22 L394.79,322 L395.36,319.94 L395.92,318.03 L396.49,316.26 L397.05,314.62 L397.61,313.09 L398.18,311.68 L398.74,310.36 L399.31,309.15 L399.87,308.02 L400.44,306.97 L401,306 L401.31,306.46 L401.61,306.89 L401.92,307.3 L402.23,307.69 L402.54,308.05 L402.84,308.39 L403.15,308.71 L403.46,309.02 L403.76,309.3 L404.07,309.57 L404.38,309.82 L404.69,310.06 L404.99,310.29 L405.3,310.5 L405.9,307.12 L406.5,304.01 L407.1,301.16 L407.7,298.53 L408.3,296.12 L408.9,293.9 L409.5,291.85 L410.1,289.98 L410.7,288.25 L411.3,286.67 L411.9,285.21 L412.5,283.87 L413.1,282.63 L413.7,281.5 L414,282.48 L414.3,283.41 L414.6,284.28 L414.9,285.1 L415.2,285.87 L415.5,286.6 L415.8,287.29 L416.1,287.93 L416.4,288.54 L416.7,289.12 L417,289.66 L417.3,290.17 L417.6,290.65 L417.9,291.1 L418.47,286.46 L419.04,282.5 L419.61,279.12 L420.19,276.23 L420.76,273.77 L421.33,271.68 L421.9,269.88 L422.47,268.36 L423.04,267.05 L423.61,265.94 L424.19,264.99 L424.76,264.18 L425.33,263.49 L425.9,262.9 L426.19,264.3 L426.49,265.62 L426.78,266.86 L427.07,268.03 L427.36,269.14 L427.66,270.18 L427.95,271.16 L428.24,272.08 L428.54,272.95 L428.83,273.77 L429.12,274.54 L429.41,275.27 L429.71,275.95 L430,276.6 L430.61,271.48 L431.21,267.27 L431.82,263.83 L432.43,261 L433.04,258.69 L433.64,256.79 L434.25,255.23 L434.86,253.95 L435.46,252.9 L436.07,252.04 L436.68,251.34 L437.29,250.76 L437.89,250.29 L438.5,249.9 L438.74,252.11 L438.99,254.19 L439.23,256.15 L439.47,257.99 L439.71,259.73 L439.96,261.37 L440.2,262.92 L440.44,264.37 L440.69,265.74 L440.93,267.04 L441.17,268.25 L441.41,269.4 L441.66,270.48 L441.9,271.5 L442.45,261.58 L443,255.23 L443.55,251.17 L444.1,248.57 L444.65,246.9 L445.2,245.84 L445.75,245.16 L446.3,244.72 L446.85,244.44 L447.4,244.26 L447.95,244.15 L448.5,244.08 L449.05,244.03 L449.6,244 L449.8,238.7 L450,244 C450.02,244.88 449.92,247.13 450.1,249.3 C450.28,251.47 450.53,254.58 451.1,257 C451.67,259.42 452.45,261.72 453.5,263.8 C454.55,265.88 455.8,267.73 457.4,269.5 C459,271.27 460.85,272.95 463.1,274.4 C465.35,275.85 467.68,277.08 470.9,278.2 C474.12,279.32 480.48,280.62 482.4,281.1" fill="none" stroke="#232b47" stroke-width="1.4" stroke-linejoin="round"/>
<path d="M68,571.9 L68.6,570.2 L69.2,572.6 L70.9,572.5 L76.7,571.7 L81.3,573.1 L81.79,572.76 L82.29,572.44 L82.78,572.15 L83.27,571.86 L83.76,571.6 L84.26,571.35 L84.75,571.11 L85.24,570.89 L85.74,570.68 L86.23,570.48 L86.72,570.3 L87.21,570.12 L87.71,569.96 L88.2,569.8 L88.49,569.95 L88.79,570.09 L89.08,570.22 L89.37,570.34 L89.66,570.46 L89.96,570.57 L90.25,570.68 L90.54,570.78 L90.84,570.88 L91.13,570.97 L91.42,571.06 L91.71,571.15 L92.01,571.22 L92.3,571.3 L92.75,570.7 L93.2,570.14 L93.65,569.61 L94.1,569.12 L94.55,568.65 L95,568.22 L95.45,567.81 L95.9,567.43 L96.35,567.08 L96.8,566.74 L97.25,566.43 L97.7,566.13 L98.15,565.86 L98.6,565.6 L98.93,565.77 L99.26,565.92 L99.59,566.07 L99.91,566.21 L100.24,566.35 L100.57,566.48 L100.9,566.6 L101.23,566.72 L101.56,566.83 L101.89,566.93 L102.21,567.03 L102.54,567.12 L102.87,567.21 L103.2,567.3 L103.69,566.14 L104.19,565.07 L104.68,564.07 L105.17,563.13 L105.66,562.26 L106.16,561.45 L106.65,560.7 L107.14,560 L107.64,559.35 L108.13,558.74 L108.62,558.17 L109.11,557.65 L109.61,557.16 L110.1,556.7 L110.39,557 L110.69,557.29 L110.98,557.56 L111.27,557.82 L111.56,558.07 L111.86,558.3 L112.15,558.52 L112.44,558.74 L112.74,558.94 L113.03,559.13 L113.32,559.31 L113.61,559.48 L113.91,559.64 L114.2,559.8 L114.71,557.84 L115.21,556.04 L115.72,554.37 L116.23,552.83 L116.74,551.4 L117.24,550.09 L117.75,548.87 L118.26,547.75 L118.76,546.71 L119.27,545.75 L119.78,544.87 L120.29,544.05 L120.79,543.3 L121.3,542.6 L121.64,543.02 L121.97,543.42 L122.31,543.8 L122.64,544.16 L122.98,544.5 L123.31,544.82 L123.65,545.13 L123.99,545.42 L124.32,545.7 L124.66,545.97 L124.99,546.22 L125.33,546.46 L125.66,546.68 L126,546.9 L126.5,544.06 L127,541.48 L127.5,539.14 L128,537.01 L128.5,535.07 L129,533.3 L129.5,531.7 L130,530.25 L130.5,528.92 L131,527.72 L131.5,526.62 L132,525.63 L132.5,524.72 L133,523.9 L133.29,524.5 L133.59,525.08 L133.88,525.62 L134.17,526.14 L134.46,526.63 L134.76,527.1 L135.05,527.55 L135.34,527.97 L135.64,528.37 L135.93,528.75 L136.22,529.12 L136.51,529.46 L136.81,529.79 L137.1,530.1 L137.56,526.35 L138.03,522.99 L138.49,519.98 L138.96,517.28 L139.42,514.87 L139.89,512.7 L140.35,510.76 L140.81,509.02 L141.28,507.47 L141.74,506.07 L142.21,504.82 L142.67,503.7 L143.14,502.7 L143.6,501.8 L143.89,502.83 L144.19,503.81 L144.48,504.75 L144.77,505.63 L145.06,506.48 L145.36,507.28 L145.65,508.04 L145.94,508.76 L146.24,509.45 L146.53,510.1 L146.82,510.72 L147.11,511.31 L147.41,511.87 L147.7,512.4 L148.2,507.39 L148.7,503.15 L149.2,499.59 L149.7,496.58 L150.2,494.04 L150.7,491.89 L151.2,490.09 L151.7,488.56 L152.2,487.27 L152.7,486.19 L153.2,485.27 L153.7,484.5 L154.2,483.85 L154.7,483.3 L155.01,484.93 L155.31,486.47 L155.62,487.94 L155.93,489.34 L156.24,490.67 L156.54,491.93 L156.85,493.13 L157.16,494.26 L157.46,495.35 L157.77,496.37 L158.08,497.35 L158.39,498.28 L158.69,499.16 L159,500 L159.48,493.04 L159.96,487.55 L160.44,483.22 L160.91,479.81 L161.39,477.12 L161.87,475.01 L162.35,473.34 L162.83,472.02 L163.31,470.98 L163.79,470.17 L164.26,469.52 L164.74,469.02 L165.22,468.62 L165.7,468.3 L165.97,470.6 L166.24,472.78 L166.51,474.86 L166.79,476.83 L167.06,478.71 L167.33,480.49 L167.6,482.19 L167.87,483.79 L168.14,485.32 L168.41,486.78 L168.69,488.16 L168.96,489.47 L169.23,490.72 L169.5,491.9 L170.02,479.9 L170.54,471.5 L171.06,465.62 L171.59,461.51 L172.11,458.63 L172.63,456.62 L173.15,455.21 L173.67,454.23 L174.19,453.54 L174.71,453.05 L175.24,452.72 L175.76,452.48 L176.28,452.32 L176.8,452.2 L176.8,459 C176.8,460.42 176.6,464.58 176.8,467.5 C177,470.42 177.43,473.68 178,476.5 C178.57,479.32 179.18,481.58 180.2,484.4 C181.22,487.22 182.5,490.58 184.1,493.4 C185.7,496.22 187.53,498.85 189.8,501.3 C192.07,503.75 195.27,506.42 197.7,508.1 C200.13,509.78 201.97,510.37 204.4,511.4 C206.83,512.43 209.28,513.23 212.3,514.3 C215.32,515.37 218.92,516.68 222.5,517.8 C226.08,518.92 230.42,520.17 233.8,521 C237.18,521.83 241.3,522.5 242.8,522.8" fill="none" stroke="#232b47" stroke-width="1.4" stroke-linejoin="round"/>
<path d="M85.3,359.3 L85.3,362.4 M93.15,353.2 L93.15,353 M97.4,356.6 L97.4,357.2 M104.75,349.4 L104.75,347 M109.8,353.4 L109.8,353.8 M116.95,343.6 L116.95,341.2 M121.5,350.2 L121.5,350.6 M129.25,337.3 L129.25,334.8 M133.8,345.6 L133.8,348 M141.35,329.2 L141.35,326.2 M145.9,342 L145.9,347.2 M153.75,319.4 L153.75,315.4 M158.3,340.2 L158.3,346.4 M165.95,307.6 L165.95,301.7 M170.3,335.6 L170.3,346.2 M178.25,293.8 L178.25,290 M182.5,330 L182.5,347.3 M189.95,279.6 L189.95,264.8 M194.8,327 L194.8,363.1 M202.75,263.4 L202.75,239.9" fill="none" stroke="#4b5679" stroke-width="1.05"/>
<path d="M68.8,359.3 L85.3,359.3 L85.55,359.3 L86.08,358.11 L86.61,357.13 L87.15,356.34 L87.68,355.69 L88.21,355.16 L88.74,354.73 L89.28,354.38 L89.81,354.09 L90.34,353.86 L90.87,353.67 L91.4,353.51 L91.94,353.39 L92.47,353.28 L93,353.2 L93.3,353.2 L93.59,353.99 L93.89,354.6 L94.18,355.07 L94.47,355.44 L94.76,355.72 L95.06,355.94 L95.35,356.11 L95.64,356.24 L95.94,356.35 L96.23,356.43 L96.52,356.49 L96.81,356.53 L97.11,356.57 L97.4,356.6 L97.65,356.6 L98.15,355.19 L98.64,354.04 L99.14,353.1 L99.64,352.34 L100.13,351.71 L100.63,351.21 L101.12,350.79 L101.62,350.45 L102.12,350.18 L102.61,349.95 L103.11,349.77 L103.61,349.62 L104.1,349.5 L104.6,349.4 L104.9,349.4 L105.25,350.33 L105.6,351.04 L105.95,351.6 L106.3,352.03 L106.65,352.37 L107,352.63 L107.35,352.83 L107.7,352.98 L108.05,353.1 L108.4,353.19 L108.75,353.27 L109.1,353.32 L109.45,353.37 L109.8,353.4 L110.05,353.4 L110.53,351.48 L111.01,349.92 L111.5,348.64 L111.98,347.6 L112.46,346.75 L112.94,346.06 L113.42,345.49 L113.91,345.03 L114.39,344.66 L114.87,344.35 L115.35,344.1 L115.84,343.9 L116.32,343.74 L116.8,343.6 L117.1,343.6 L117.41,345.13 L117.73,346.31 L118.04,347.23 L118.36,347.94 L118.67,348.49 L118.99,348.92 L119.3,349.25 L119.61,349.51 L119.93,349.71 L120.24,349.86 L120.56,349.98 L120.87,350.07 L121.19,350.14 L121.5,350.2 L121.75,350.2 L122.28,347.67 L122.8,345.61 L123.33,343.93 L123.85,342.56 L124.38,341.45 L124.9,340.54 L125.42,339.79 L125.95,339.19 L126.47,338.69 L127,338.29 L127.52,337.96 L128.05,337.7 L128.57,337.48 L129.1,337.3 L129.4,337.3 L129.71,339.22 L130.03,340.71 L130.34,341.87 L130.66,342.76 L130.97,343.45 L131.29,343.99 L131.6,344.41 L131.91,344.73 L132.23,344.98 L132.54,345.17 L132.86,345.32 L133.17,345.44 L133.49,345.53 L133.8,345.6 L134.05,345.6 L134.56,340.64 L135.07,337.17 L135.58,334.74 L136.09,333.05 L136.6,331.86 L137.11,331.03 L137.62,330.44 L138.14,330.04 L138.65,329.75 L139.16,329.55 L139.67,329.41 L140.18,329.32 L140.69,329.25 L141.2,329.2 L141.5,329.2 L141.81,332.17 L142.13,334.46 L142.44,336.24 L142.76,337.62 L143.07,338.69 L143.39,339.52 L143.7,340.16 L144.01,340.66 L144.33,341.04 L144.64,341.34 L144.96,341.57 L145.27,341.75 L145.59,341.89 L145.9,342 L146.15,342 L146.68,335.17 L147.21,330.39 L147.75,327.04 L148.28,324.7 L148.81,323.06 L149.34,321.92 L149.88,321.11 L150.41,320.55 L150.94,320.16 L151.47,319.89 L152,319.69 L152.54,319.56 L153.07,319.47 L153.6,319.4 L153.9,319.4 L154.21,324.22 L154.53,327.95 L154.84,330.85 L155.16,333.09 L155.47,334.82 L155.79,336.17 L156.1,337.21 L156.41,338.02 L156.73,338.65 L157.04,339.13 L157.36,339.51 L157.67,339.8 L157.99,340.03 L158.3,340.2 L158.55,340.2 L159.07,330.34 L159.59,323.45 L160.1,318.62 L160.62,315.24 L161.14,312.88 L161.66,311.23 L162.18,310.07 L162.69,309.26 L163.21,308.7 L163.73,308.3 L164.25,308.02 L164.76,307.83 L165.28,307.69 L165.8,307.6 L166.1,307.6 L166.4,314.09 L166.7,319.11 L167,323.01 L167.3,326.03 L167.6,328.36 L167.9,330.18 L168.2,331.58 L168.5,332.67 L168.8,333.51 L169.1,334.16 L169.4,334.67 L169.7,335.06 L170,335.36 L170.3,335.6 L170.55,335.6 L171.09,322.96 L171.63,314.12 L172.17,307.93 L172.71,303.6 L173.25,300.57 L173.79,298.45 L174.32,296.97 L174.86,295.93 L175.4,295.21 L175.94,294.7 L176.48,294.34 L177.02,294.1 L177.56,293.92 L178.1,293.8 L178.4,293.8 L178.69,302.19 L178.99,308.68 L179.28,313.72 L179.57,317.62 L179.86,320.64 L180.16,322.99 L180.45,324.8 L180.74,326.21 L181.04,327.3 L181.33,328.14 L181.62,328.8 L181.91,329.3 L182.21,329.7 L182.5,330 L182.75,330 L183.25,314.76 L183.76,304.1 L184.26,296.64 L184.76,291.42 L185.27,287.77 L185.77,285.21 L186.28,283.42 L186.78,282.17 L187.28,281.3 L187.79,280.68 L188.29,280.26 L188.79,279.96 L189.3,279.75 L189.8,279.6 L190.1,279.6 L190.44,290.58 L190.77,299.09 L191.11,305.68 L191.44,310.79 L191.78,314.75 L192.11,317.82 L192.45,320.19 L192.79,322.03 L193.12,323.46 L193.46,324.57 L193.79,325.42 L194.13,326.09 L194.46,326.6 L194.8,327 L195.05,327 L195.59,307.77 L196.13,294.31 L196.67,284.9 L197.21,278.31 L197.75,273.71 L198.29,270.48 L198.82,268.22 L199.36,266.65 L199.9,265.54 L200.44,264.77 L200.98,264.23 L201.52,263.85 L202.06,263.59 L202.6,263.4 L202.9,263.4 C202.97,267 203.13,279.23 203.3,285 C203.47,290.77 203.63,293 203.9,298 C204.17,303 204.55,310.57 204.9,315 C205.25,319.43 205.43,321.73 206,324.6 C206.57,327.47 207.47,330.5 208.3,332.2 C209.13,333.9 209.88,334.07 211,334.8 C212.12,335.53 213.5,336.1 215,336.6 C216.5,337.1 218.12,337.38 220,337.8 C221.88,338.22 223.63,338.67 226.3,339.1 C228.97,339.53 234.38,340.18 236,340.4" fill="none" stroke="#232b47" stroke-width="1.25" stroke-linejoin="round"/>
<rect x="0.75" y="0.75" width="518.5" height="620.5" fill="none" stroke="#000" stroke-width="1.5"/></svg>
</body></html>
